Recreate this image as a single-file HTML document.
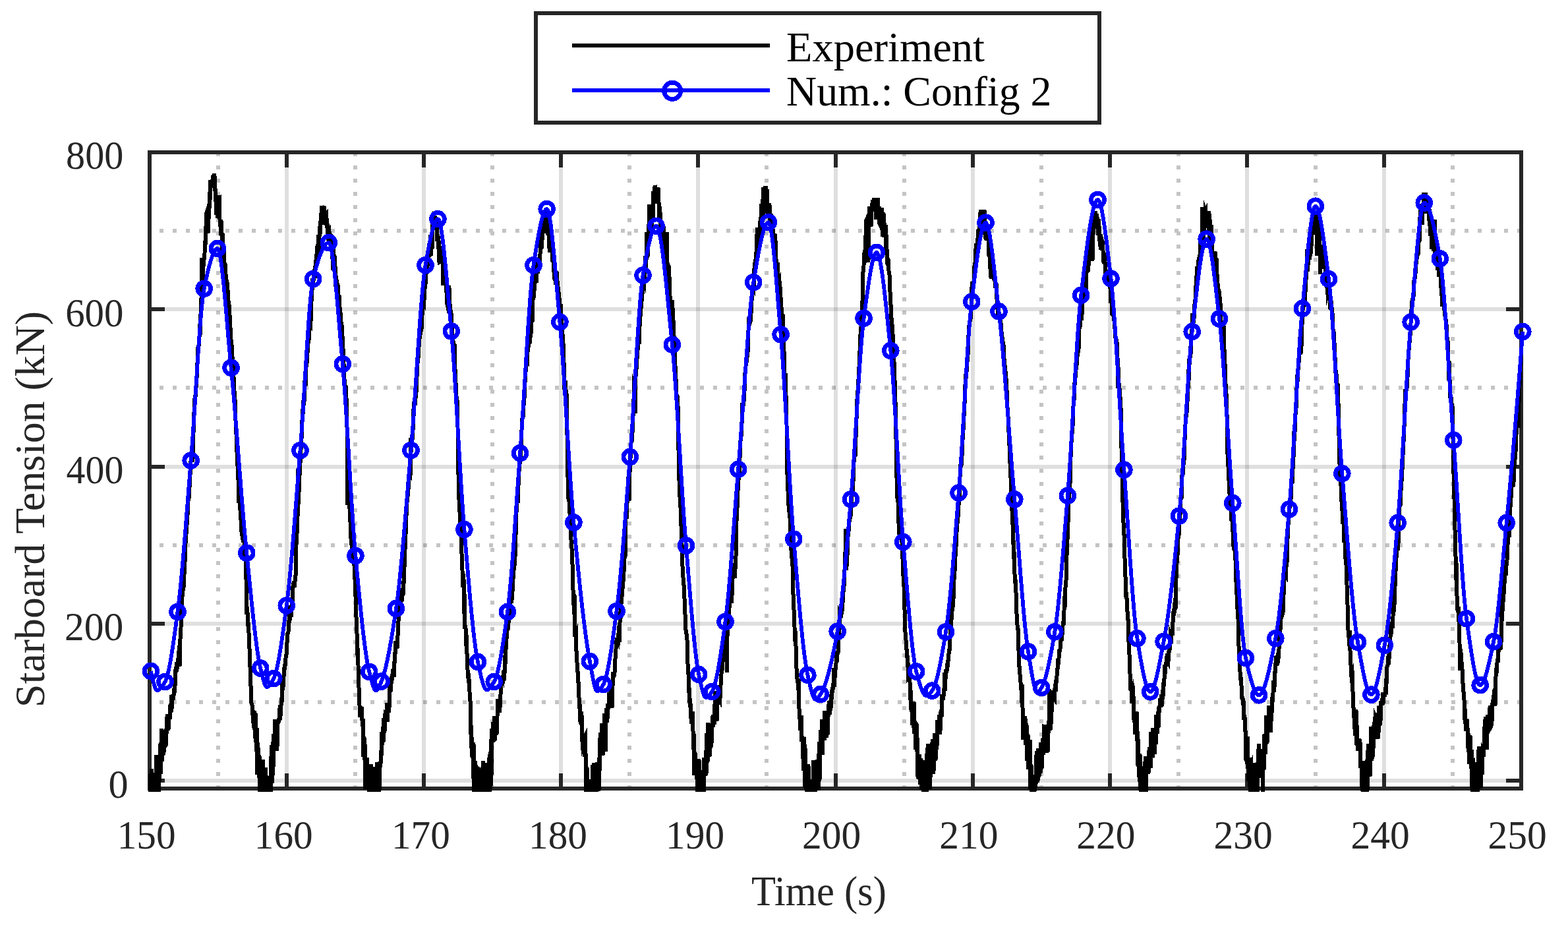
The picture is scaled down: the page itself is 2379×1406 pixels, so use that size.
<!DOCTYPE html><html><head><meta charset="utf-8"><title>Starboard Tension</title>
<style>html,body{margin:0;padding:0;background:#fff;}svg{display:block;}text{font-family:"Liberation Serif",serif;}</style></head><body>
<svg width="2379" height="1406" viewBox="0 0 2379 1406" shape-rendering="crispEdges">
<rect width="2379" height="1406" fill="#fff"/>
<defs><clipPath id="ax"><rect x="224" y="228" width="2087" height="973"/></clipPath></defs>
<path d="M331 1197 V231 M539 1197 V231 M747 1197 V231 M955 1197 V231 M1163 1197 V231 M1372 1197 V231 M1580 1197 V231 M1788 1197 V231 M1996 1197 V231 M2204 1197 V231" stroke="#c4c4c4" stroke-width="6" stroke-dasharray="6 14" fill="none"/>
<path d="M2308 1065 H227 M2308 827 H227 M2308 588 H227 M2308 350 H227" stroke="#c4c4c4" stroke-width="6" stroke-dasharray="6 14" fill="none"/>
<g stroke="#262626" stroke-opacity="0.15" stroke-width="6" fill="none">
<path d="M435 1196 V231"/>
<path d="M643 1196 V231"/>
<path d="M851 1196 V231"/>
<path d="M1059 1196 V231"/>
<path d="M1268 1196 V231"/>
<path d="M1476 1196 V231"/>
<path d="M1684 1196 V231"/>
<path d="M1892 1196 V231"/>
<path d="M2100 1196 V231"/>
<path d="M227 1184 H2308"/>
<path d="M227 946 H2308"/>
<path d="M227 708 H2308"/>
<path d="M227 469 H2308"/>
</g>
<path d="M227 1196 v-23 M227 231 v23 M435 1196 v-23 M435 231 v23 M643 1196 v-23 M643 231 v23 M851 1196 v-23 M851 231 v23 M1059 1196 v-23 M1059 231 v23 M1268 1196 v-23 M1268 231 v23 M1476 1196 v-23 M1476 231 v23 M1684 1196 v-23 M1684 231 v23 M1892 1196 v-23 M1892 231 v23 M2100 1196 v-23 M2100 231 v23 M2308 1196 v-23 M2308 231 v23 M227 1184 h23 M2308 1184 h-23 M227 946 h23 M2308 946 h-23 M227 708 h23 M2308 708 h-23 M227 469 h23 M2308 469 h-23 M227 231 h23 M2308 231 h-23" stroke="#262626" stroke-width="6" fill="none"/>
<rect x="227" y="231" width="2081" height="965" fill="none" stroke="#262626" stroke-width="6"/>
<g clip-path="url(#ax)">
<path d="M227 1200.8 227.5 1204 228 1204 228.5 1173 229 1180.8 229.5 1204 230 1166.1 230.5 1204 231 1204 231.5 1197.8 232 1181.7 232.5 1175.8 233 1171.8 233.5 1185.8 234 1192.6 234.5 1199.8 235 1204 235.5 1204 236 1204 236.5 1204 237 1166.8 237.5 1145 238 1189.4 238.5 1150.1 239 1153.6 239.5 1192.9 240 1192.6 240.5 1204 241 1201.5 241.5 1177.4 242 1177.9 242.5 1151.9 243 1127.7 243.5 1134.8 244 1173.7 244.5 1126.4 245 1134.4 245.5 1105.3 246 1155.2 246.5 1120.8 247 1111.2 247.5 1146.1 248 1122.8 248.5 1141.7 249 1129.7 249.5 1134.6 250 1114 250.5 1120.7 251 1116.7 251.5 1132.5 252 1105.1 252.5 1114.5 253 1087.1 253.5 1099.9 254 1094.1 254.5 1083.1 255 1107.6 255.5 1085.6 256 1106.4 256.5 1088.7 257 1087.7 257.5 1087.7 258 1087.8 258.5 1068.9 259 1076.2 259.5 1067.3 260 1068.6 260.5 1056.9 261 1075.4 261.5 1054.5 262 1062.2 262.5 1053.1 263 1061.5 263.5 1055.7 264 1044.1 264.5 1051.2 265 1047.2 265.5 1040.1 266 1028 266.5 1015.1 267 1011 267.5 1019.5 268 1011.6 268.5 1004.7 269 1015 269.5 1009.5 270 1005.7 270.5 998.8 271 994.8 271.5 987.2 272 979.1 272.5 1011.3 273 975.6 273.5 969.6 274 956.7 274.5 952.3 275 928.2 275.5 921.3 276 904.9 276.5 897.7 277 905.1 277.5 896.3 278 889.7 278.5 887.8 279 887.8 279.5 871 280 864 280.5 852.7 281 834.1 281.5 824.2 282 817.4 282.5 810.8 283 791.2 283.5 797.1 284 775.8 284.5 781.3 285 775.7 285.5 758.4 286 756.7 286.5 756.7 287 737.2 287.5 739.4 288 733.4 288.5 719.6 289 714.1 289.5 698.8 290 693.8 290.5 694.5 291 691.5 291.5 693.8 292 700.8 292.5 688 293 672.7 293.5 656.1 294 649.7 294.5 625.1 295 620.4 295.5 604.2 296 599.1 296.5 602 297 596.2 297.5 588.1 298 577.3 298.5 573.5 299 554 299.5 550.8 300 527.8 300.5 526.8 301 523.4 301.5 526.1 302 509.8 302.5 511.7 303 500.8 303.5 491.5 304 508 304.5 476.3 305 458.1 305.5 452.2 306 442 306.5 390.8 307 426.8 307.5 432.9 308 423.3 308.5 399.1 309 403.6 309.5 394.1 310 390.2 310.5 384 311 364.6 311.5 372.1 312 347.2 312.5 343.1 313 338.1 313.5 322.8 314 321.2 314.5 336.6 315 351.6 315.5 353.5 316 346.1 316.5 315.3 317 331.9 317.5 316 318 309.1 318.5 290.6 319 303.2 319.5 273.4 320 275.5 320.5 276.9 321 284.5 321.5 280.6 322 272.4 322.5 279 323 266 323.5 268.9 324 266 324.5 270.7 325 266 325.5 266 326 290.2 326.5 285.7 327 303.1 327.5 305.2 328 296.4 328.5 326 329 318.7 329.5 300.7 330 327.1 330.5 330.6 331 324.7 331.5 295.9 332 307.7 332.5 311.1 333 309.8 333.5 333.1 334 344.2 334.5 332.8 335 353.1 335.5 353 336 334.9 336.5 357.8 337 384.2 337.5 353.4 338 372.1 338.5 381.7 339 385.6 339.5 378.8 340 400.2 340.5 398.2 341 404.9 341.5 407.1 342 400.4 342.5 415.4 343 425.5 343.5 433.1 344 424.8 344.5 428 345 444.5 345.5 440.1 346 449.9 346.5 460.4 347 456.8 347.5 461.9 348 473.3 348.5 485.2 349 484.7 349.5 497 350 500 350.5 514.8 351 523.7 351.5 523 352 530.1 352.5 540.7 353 543.8 353.5 552.6 354 562.1 354.5 572.1 355 574.1 355.5 593.3 356 600.1 356.5 606.2 357 614.1 357.5 637.9 358 643.2 358.5 659.2 359 674 359.5 685.4 360 707.2 360.5 703.9 361 711.7 361.5 728.1 362 763.1 362.5 735.3 363 747.8 363.5 755.4 364 761.7 364.5 774 365 771.3 365.5 789.1 366 798 366.5 806.9 367 811.7 367.5 812.2 368 810.5 368.5 819.1 369 823.1 369.5 814.6 370 817.9 370.5 820 371 836.5 371.5 846.7 372 842.1 372.5 849.9 373 869.3 373.5 879.1 374 893.6 374.5 932.2 375 920.2 375.5 928.6 376 950 376.5 943.7 377 958.2 377.5 959.9 378 976.8 378.5 984.1 379 993.7 379.5 1011.7 380 1029.8 380.5 1040.7 381 1044.2 381.5 1066.7 382 1067.9 382.5 1069.1 383 1076.8 383.5 1085.1 384 1077.2 384.5 1096.4 385 1103.9 385.5 1086.1 386 1077.6 386.5 1107 387 1120.2 387.5 1081.4 388 1113.3 388.5 1125.6 389 1139.7 389.5 1104.3 390 1111.5 390.5 1175.4 391 1126.2 391.5 1133.2 392 1163.2 392.5 1155.7 393 1180.4 393.5 1145.3 394 1204 394.5 1163.9 395 1204 395.5 1168.3 396 1199.7 396.5 1166.3 397 1182.4 397.5 1177.1 398 1202.1 398.5 1180.7 399 1152.2 399.5 1204 400 1204 400.5 1204 401 1176.6 401.5 1188.2 402 1176.4 402.5 1169.5 403 1164.1 403.5 1200.2 404 1175.9 404.5 1182.8 405 1204 405.5 1204 406 1184.6 406.5 1204 407 1184.1 407.5 1199.2 408 1178.4 408.5 1192.6 409 1198.4 409.5 1189.7 410 1177.4 410.5 1202.4 411 1203 411.5 1147 412 1137.9 412.5 1130.6 413 1187.7 413.5 1178.5 414 1124.8 414.5 1165.9 415 1113.3 415.5 1125.2 416 1119.4 416.5 1139.1 417 1091.1 417.5 1107.5 418 1124.7 418.5 1100 419 1108.5 419.5 1116.3 420 1138.4 420.5 1133 421 1109.3 421.5 1098.7 422 1091.6 422.5 1095.5 423 1089.3 423.5 1093.1 424 1078.6 424.5 1074.4 425 1092.3 425.5 1069.5 426 1085.8 426.5 1070.4 427 1058.2 427.5 1065.3 428 1046.1 428.5 1047 429 1034.7 429.5 1042.4 430 1029.6 430.5 1026.8 431 1012.6 431.5 1016.1 432 1010.9 432.5 1007.2 433 1009.5 433.5 998 434 993.5 434.5 992.6 435 988.8 435.5 974.4 436 973.6 436.5 960.3 437 960.2 437.5 958.2 438 941.3 438.5 946.3 439 917.9 439.5 941 440 931 440.5 929.5 441 935.2 441.5 932.7 442 935.5 442.5 922.2 443 924.1 443.5 915.8 444 912.5 444.5 889.6 445 890 445.5 889.7 446 888.2 446.5 881.7 447 890.4 447.5 881.9 448 874.8 448.5 874.7 449 849.5 449.5 816.5 450 826 450.5 809.3 451 793.6 451.5 786.6 452 711.2 452.5 765.2 453 759.1 453.5 746.9 454 735.9 454.5 721.7 455 714.3 455.5 702.4 456 698.3 456.5 682.2 457 672.5 457.5 665.5 458 650 458.5 636.7 459 635.3 459.5 620.6 460 621.9 460.5 615.2 461 603.5 461.5 610.3 462 580.7 462.5 576.9 463 575.5 463.5 586.4 464 557.8 464.5 556.2 465 554.4 465.5 550.7 466 544.6 466.5 535.3 467 529.5 467.5 521 468 514.9 468.5 517.2 469 502.1 469.5 500.4 470 496.7 470.5 496.7 471 497 471.5 488 472 469.4 472.5 456.2 473 455.3 473.5 439.9 474 436.9 474.5 422.1 475 435.2 475.5 423.4 476 425.4 476.5 416.5 477 417.3 477.5 421.6 478 416.7 478.5 403.6 479 406.3 479.5 394.5 480 388.2 480.5 388.3 481 374.6 481.5 373.1 482 379.8 482.5 378.5 483 355.9 483.5 373.6 484 374.1 484.5 359.9 485 343.5 485.5 356 486 334.6 486.5 341.4 487 323.4 487.5 326.8 488 311.7 488.5 318.7 489 321.5 489.5 327 490 313.7 490.5 340.6 491 317.1 491.5 312.9 492 315.8 492.5 336 493 324.6 493.5 339 494 339.4 494.5 324.1 495 323.6 495.5 330.2 496 345.8 496.5 338.5 497 355.1 497.5 351 498 354.9 498.5 364.2 499 367.4 499.5 357.7 500 355.8 500.5 360.7 501 362.3 501.5 354.3 502 366.7 502.5 378.4 503 372.4 503.5 380 504 386.7 504.5 392.7 505 410.3 505.5 385.3 506 387.3 506.5 386 507 394.7 507.5 387.6 508 403.4 508.5 403 509 434.6 509.5 427.5 510 417.7 510.5 429 511 426.6 511.5 429.2 512 440.1 512.5 431.4 513 449.8 513.5 453.3 514 453.3 514.5 447.2 515 461.8 515.5 466.2 516 475.3 516.5 473.2 517 491.7 517.5 496.4 518 488.3 518.5 494.7 519 493.1 519.5 510.1 520 518.2 520.5 529.5 521 536.4 521.5 551.7 522 565.7 522.5 575.1 523 588.7 523.5 586.9 524 584.2 524.5 588.6 525 584.7 525.5 603.7 526 617.1 526.5 647.6 527 693.3 527.5 766.1 528 725 528.5 733 529 742.7 529.5 750.8 530 760.3 530.5 771.7 531 790.1 531.5 790.9 532 811.4 532.5 816.9 533 826.6 533.5 824.4 534 821.8 534.5 837.5 535 832.1 535.5 834.1 536 848.8 536.5 851.9 537 850 537.5 857.7 538 877.2 538.5 877.6 539 898.1 539.5 904.4 540 931.3 540.5 935.6 541 956.4 541.5 961 542 979.1 542.5 993.5 543 992.7 543.5 1009 544 1031.1 544.5 1043.3 545 1053 545.5 1070.3 546 1075.1 546.5 1088.3 547 1072.9 547.5 1083.9 548 1078.2 548.5 1082.3 549 1071.6 549.5 1093.1 550 1102 550.5 1098.2 551 1089.8 551.5 1147.7 552 1141.6 552.5 1117 553 1152.9 553.5 1128.1 554 1145.6 554.5 1196.7 555 1156.1 555.5 1151.2 556 1159 556.5 1148.9 557 1165 557.5 1173.8 558 1170.5 558.5 1165.3 559 1196.3 559.5 1178.9 560 1204 560.5 1204 561 1177.7 561.5 1204 562 1190.6 562.5 1159.5 563 1164.4 563.5 1204 564 1204 564.5 1204 565 1168.3 565.5 1204 566 1204 566.5 1204 567 1163.3 567.5 1201.1 568 1191.3 568.5 1204 569 1171.5 569.5 1184.6 570 1204 570.5 1194.1 571 1189.5 571.5 1204 572 1175.8 572.5 1156.3 573 1183.6 573.5 1169.4 574 1166.9 574.5 1203.3 575 1204 575.5 1198.2 576 1192.3 576.5 1155.1 577 1158.5 577.5 1158.9 578 1138.2 578.5 1147.2 579 1130.8 579.5 1110 580 1130.3 580.5 1122.7 581 1102.1 581.5 1120.6 582 1125.4 582.5 1088.8 583 1111.2 583.5 1109.2 584 1091.3 584.5 1082.2 585 1082.7 585.5 1085.7 586 1088.2 586.5 1081.7 587 1065.9 587.5 1091.1 588 1095.2 588.5 1070.5 589 1074 589.5 1068.9 590 1080.3 590.5 1074.4 591 1049.2 591.5 1049.7 592 1043.2 592.5 1044.5 593 1048.6 593.5 1031.5 594 1029 594.5 1029.6 595 1026 595.5 1026.4 596 1019.9 596.5 1014.8 597 1018.1 597.5 1026.9 598 1019.7 598.5 1003.2 599 1006 599.5 989.1 600 989.1 600.5 972 601 984.3 601.5 974 602 980.3 602.5 983.4 603 977.2 603.5 964 604 952.7 604.5 942.7 605 927.7 605.5 921.7 606 915.2 606.5 918.4 607 918.5 607.5 920 608 914.2 608.5 907.9 609 909.4 609.5 912.6 610 901.2 610.5 900.5 611 902.8 611.5 892.6 612 893.7 612.5 885.4 613 865.1 613.5 861 614 843.2 614.5 832.8 615 824.2 615.5 809.8 616 799.1 616.5 776 617 776.4 617.5 763 618 748.1 618.5 753.5 619 743.5 619.5 731.3 620 742.1 620.5 727.6 621 724 621.5 721.6 622 722.3 622.5 722.8 623 664.4 623.5 686.9 624 671.6 624.5 675.2 625 669.7 625.5 666.7 626 662.5 626.5 652 627 645.8 627.5 620.9 628 621.7 628.5 608.7 629 610.9 629.5 610.7 630 610.9 630.5 596.7 631 594.9 631.5 595.6 632 586.8 632.5 568.1 633 568 633.5 551.4 634 543.9 634.5 543.6 635 532.9 635.5 526.3 636 519.1 636.5 514.1 637 504.6 637.5 499.8 638 508.2 638.5 502.8 639 501.6 639.5 499.5 640 484.9 640.5 478.4 641 472.4 641.5 466.6 642 468.8 642.5 458.5 643 454 643.5 455.5 644 442.4 644.5 434.3 645 437.9 645.5 431.3 646 415 646.5 416.6 647 400.2 647.5 400.9 648 409.5 648.5 401.1 649 401.3 649.5 404 650 398.6 650.5 381.7 651 390 651.5 368.8 652 389.1 652.5 366.8 653 367.8 653.5 366.3 654 388.3 654.5 366.3 655 371.8 655.5 377.7 656 369.8 656.5 335 657 343.2 657.5 340.9 658 341.6 658.5 330 659 330.9 659.5 330 660 330 660.5 344.5 661 330.3 661.5 334.7 662 339.1 662.5 332.4 663 334.3 663.5 365.7 664 357.1 664.5 357.3 665 378.3 665.5 364.3 666 375.3 666.5 397.9 667 397.7 667.5 391.2 668 376.7 668.5 381.9 669 373.5 669.5 377.7 670 373.1 670.5 377.4 671 393.3 671.5 385.8 672 393.6 672.5 432.8 673 408.4 673.5 410.4 674 404.3 674.5 417.9 675 413.2 675.5 410.6 676 415.8 676.5 412.6 677 426.3 677.5 443.7 678 459.7 678.5 461.8 679 458.6 679.5 434 680 438.3 680.5 449.2 681 433.2 681.5 436.5 682 451.2 682.5 460.8 683 468.5 683.5 470.5 684 472 684.5 474.7 685 492.6 685.5 500.3 686 495.2 686.5 510.8 687 512.5 687.5 517.3 688 525.6 688.5 522.1 689 533.8 689.5 520.9 690 552.8 690.5 559.9 691 577 691.5 588.1 692 587.6 692.5 604.2 693 609.1 693.5 607.4 694 610.3 694.5 648.1 695 702.9 695.5 720.1 696 733.1 696.5 757.6 697 769.6 697.5 776.3 698 789.7 698.5 794.9 699 789.2 699.5 800.5 700 818.4 700.5 840.3 701 851.2 701.5 864.8 702 891.1 702.5 870.1 703 884.2 703.5 877 704 930.5 704.5 900.2 705 918.7 705.5 953.7 706 948.3 706.5 952.3 707 967.9 707.5 980.1 708 963 708.5 991.4 709 997.7 709.5 1015.7 710 1021.2 710.5 1028.4 711 1027.9 711.5 1035.4 712 1030.2 712.5 1049.4 713 1061.4 713.5 1063.4 714 1077.6 714.5 1113.7 715 1100.2 715.5 1135.3 716 1118 716.5 1147.9 717 1128.1 717.5 1150.3 718 1180.7 718.5 1126.1 719 1202.3 719.5 1176.9 720 1170.7 720.5 1172.2 721 1154.1 721.5 1169.1 722 1196.5 722.5 1160 723 1203.1 723.5 1204 724 1204 724.5 1204 725 1204 725.5 1162.7 726 1204 726.5 1166.9 727 1204 727.5 1204 728 1204 728.5 1204 729 1194.5 729.5 1204 730 1196 730.5 1204 731 1172.2 731.5 1204 732 1204 732.5 1162.9 733 1153.7 733.5 1172.9 734 1165.2 734.5 1170.8 735 1200.5 735.5 1189.6 736 1190.2 736.5 1173.5 737 1156.9 737.5 1177.1 738 1183.9 738.5 1188 739 1204 739.5 1174.1 740 1204 740.5 1182 741 1204 741.5 1186.4 742 1149.5 742.5 1204 743 1191.9 743.5 1143.9 744 1140.8 744.5 1196.3 745 1121.3 745.5 1135.2 746 1175.2 746.5 1105.1 747 1109.5 747.5 1107.7 748 1095.4 748.5 1113.8 749 1116.7 749.5 1098.8 750 1086.4 750.5 1121.7 751 1121.3 751.5 1110.9 752 1093.3 752.5 1112 753 1114.5 753.5 1102.6 754 1112.5 754.5 1086.2 755 1081.1 755.5 1060.2 756 1069 756.5 1072.6 757 1072.2 757.5 1062.3 758 1081.3 758.5 1073.3 759 1062 759.5 1053.3 760 1048.9 760.5 1029.1 761 1029 761.5 1026.5 762 1034.1 762.5 1031.4 763 1028 763.5 1029.6 764 1025.9 764.5 1032.6 765 1017.6 765.5 1017.3 766 1006 766.5 1007.6 767 1000.7 767.5 978.1 768 985 768.5 970.1 769 953.7 769.5 954.5 770 943.8 770.5 950.4 771 944 771.5 945.4 772 940.4 772.5 938 773 931.9 773.5 923.6 774 905.7 774.5 904.9 775 895.2 775.5 903.1 776 914.8 776.5 901.5 777 909.7 777.5 898.2 778 881.7 778.5 878.4 779 861.7 779.5 866 780 850.7 780.5 850.5 781 858.3 781.5 844.9 782 825.2 782.5 812.1 783 789.2 783.5 777.3 784 769.4 784.5 763.8 785 746.2 785.5 750.7 786 751.7 786.5 736.1 787 732 787.5 711.4 788 714.9 788.5 703.1 789 702.6 789.5 696.3 790 692 790.5 671.3 791 671.9 791.5 652.3 792 642.4 792.5 634.4 793 632.7 793.5 630.2 794 633.2 794.5 615.2 795 611.5 795.5 604 796 598.4 796.5 580.8 797 568.6 797.5 564.4 798 558.1 798.5 550.1 799 545.1 799.5 547.6 800 548.2 800.5 535.1 801 517.2 801.5 527.5 802 509.7 802.5 511.7 803 513.4 803.5 521.6 804 512.9 804.5 512.1 805 509.9 805.5 506 806 493.6 806.5 480.8 807 478.8 807.5 488.6 808 470.6 808.5 455 809 447 809.5 452.7 810 437 810.5 441.1 811 432.2 811.5 427.3 812 417 812.5 429.6 813 412.8 813.5 429 814 423.7 814.5 407.2 815 399.8 815.5 415.2 816 404.6 816.5 395.4 817 403.3 817.5 394.4 818 394 818.5 403.6 819 395 819.5 385.9 820 363.5 820.5 368.6 821 366.4 821.5 378.2 822 349.1 822.5 357.1 823 363.7 823.5 342.3 824 332.7 824.5 337.7 825 328 825.5 347.1 826 322 826.5 326.6 827 324.3 827.5 346.4 828 333.4 828.5 353.7 829 339 829.5 353.9 830 331.2 830.5 323 831 336.5 831.5 357.2 832 355.1 832.5 339.3 833 365.1 833.5 377 834 382.3 834.5 376.6 835 380 835.5 377.2 836 361.6 836.5 353.8 837 372.3 837.5 361 838 373.9 838.5 397 839 392.9 839.5 398.1 840 413.3 840.5 401.1 841 421.6 841.5 423 842 413.9 842.5 416.3 843 414.1 843.5 432 844 415.9 844.5 411.6 845 429.8 845.5 426 846 432.1 846.5 448.6 847 434.9 847.5 443.1 848 455.6 848.5 451.5 849 461 849.5 466.8 850 469.1 850.5 474.2 851 472.9 851.5 484.7 852 503.6 852.5 498 853 509.6 853.5 506.2 854 525.5 854.5 520.3 855 534 855.5 548.1 856 591.3 856.5 577.2 857 581.4 857.5 579.5 858 577.5 858.5 590.6 859 600.9 859.5 596.4 860 627.9 860.5 659.5 861 700.9 861.5 723.7 862 742 862.5 757 863 759.1 863.5 760.4 864 773 864.5 778.7 865 789.4 865.5 800.6 866 813.6 866.5 819.2 867 826.1 867.5 832.1 868 846.1 868.5 855.8 869 878.9 869.5 894.7 870 901.6 870.5 918.3 871 931.6 871.5 901.3 872 935.8 872.5 965.9 873 949 873.5 963.6 874 962.2 874.5 987.5 875 993.8 875.5 1005 876 1009.5 876.5 1019.5 877 1017.9 877.5 1033.9 878 1039.7 878.5 1057.9 879 1074.8 879.5 1072.9 880 1072.7 880.5 1095 881 1095 881.5 1089.7 882 1078.8 882.5 1100.1 883 1084.9 883.5 1124.5 884 1131.3 884.5 1129.6 885 1133.2 885.5 1117.8 886 1128.6 886.5 1126.4 887 1147.6 887.5 1116.7 888 1115.7 888.5 1140.6 889 1177 889.5 1204 890 1204 890.5 1163.1 891 1204 891.5 1187.3 892 1204 892.5 1199.8 893 1194 893.5 1201.7 894 1198.9 894.5 1204 895 1197.4 895.5 1200.2 896 1182.3 896.5 1204 897 1190.6 897.5 1204 898 1201.9 898.5 1204 899 1160.3 899.5 1188.9 900 1165 900.5 1176.5 901 1157.1 901.5 1204 902 1204 902.5 1192.5 903 1175.9 903.5 1204 904 1172.7 904.5 1204 905 1164.6 905.5 1178.9 906 1185.6 906.5 1155.7 907 1166.9 907.5 1159.7 908 1186.2 908.5 1200 909 1148.6 909.5 1172.3 910 1119.3 910.5 1141.9 911 1125.5 911.5 1111.2 912 1139.2 912.5 1132 913 1096.8 913.5 1107 914 1136.9 914.5 1146.2 915 1125.3 915.5 1134.5 916 1134 916.5 1115.8 917 1105.3 917.5 1082.2 918 1086.6 918.5 1097 919 1139.7 919.5 1085.8 920 1089.5 920.5 1074.6 921 1095.8 921.5 1083.1 922 1089.8 922.5 1067.3 923 1075.2 923.5 1070.6 924 1060.4 924.5 1050 925 1053.1 925.5 1060 926 1049.3 926.5 1049.7 927 1058.3 927.5 1054.5 928 1060.7 928.5 1074.2 929 1049.8 929.5 1040.2 930 1030.4 930.5 1018.9 931 1027.2 931.5 1025 932 1024.1 932.5 1020.1 933 1016.1 933.5 998.9 934 995.3 934.5 983.9 935 974.7 935.5 971.2 936 967.7 936.5 973.1 937 970.2 937.5 968 938 969.7 938.5 960.6 939 954.7 939.5 955.3 940 974 940.5 944.1 941 935.6 941.5 936.3 942 938.1 942.5 914.4 943 914.1 943.5 905.8 944 892.7 944.5 893.1 945 885.2 945.5 881.8 946 880 946.5 867.2 947 857.5 947.5 843.3 948 838.2 948.5 847.2 949 798.3 949.5 780.3 950 780.2 950.5 786.9 951 776.9 951.5 763.4 952 749 952.5 747.3 953 727.3 953.5 723.5 954 725.8 954.5 760.1 955 729.5 955.5 715.9 956 712.3 956.5 695.5 957 674.5 957.5 672.2 958 660.9 958.5 657 959 670 959.5 656.4 960 645.8 960.5 631.6 961 624.7 961.5 605.3 962 584 962.5 585.5 963 573 963.5 579.4 964 626.7 964.5 571.4 965 564.6 965.5 560.1 966 556.3 966.5 545.3 967 527.8 967.5 531.1 968 524.3 968.5 518.9 969 514.8 969.5 507.5 970 508.9 970.5 495.3 971 488.4 971.5 479.8 972 469.8 972.5 468 973 465 973.5 456.6 974 450.3 974.5 446.9 975 425.4 975.5 422.7 976 423.6 976.5 427.6 977 428 977.5 429.4 978 412 978.5 406.2 979 399.3 979.5 388.2 980 391.7 980.5 393.1 981 352.2 981.5 367.6 982 375.5 982.5 388.2 983 386.9 983.5 369 984 351 984.5 340.5 985 340.4 985.5 310.3 986 323.7 986.5 319.2 987 314.5 987.5 320.3 988 344.9 988.5 337.1 989 348.4 989.5 314 990 320.5 990.5 330.7 991 319.3 991.5 290.3 992 294.5 992.5 296.3 993 305.2 993.5 284.1 994 284 994.5 308.8 995 295.8 995.5 308.9 996 304.5 996.5 288.2 997 292.6 997.5 285.1 998 289.7 998.5 284 999 304.2 999.5 306.6 1000 314.3 1000.5 335.8 1001 313.6 1001.5 320.6 1002 356.9 1002.5 341.7 1003 341.7 1003.5 339.1 1004 350.1 1004.5 341.8 1005 362.5 1005.5 362.4 1006 348.6 1006.5 341.9 1007 369.8 1007.5 355.8 1008 369.1 1008.5 377.4 1009 360.8 1009.5 382.9 1010 377 1010.5 391.8 1011 388.8 1011.5 391.4 1012 352.2 1012.5 404.9 1013 417.4 1013.5 418.8 1014 402.4 1014.5 403.5 1015 411.4 1015.5 419.7 1016 439 1016.5 449.3 1017 459.4 1017.5 462.1 1018 464.9 1018.5 459 1019 460.4 1019.5 454.8 1020 470.8 1020.5 467.4 1021 472.3 1021.5 485.5 1022 495.3 1022.5 511.1 1023 508.7 1023.5 522 1024 543.5 1024.5 555.1 1025 564.5 1025.5 575.6 1026 580.5 1026.5 598.4 1027 601.8 1027.5 602.3 1028 602.5 1028.5 614.5 1029 647.2 1029.5 682.5 1030 703.7 1030.5 729.2 1031 745.2 1031.5 753.4 1032 762.9 1032.5 769.8 1033 780.4 1033.5 797.7 1034 812.2 1034.5 825.1 1035 850.9 1035.5 859.1 1036 866.7 1036.5 875.6 1037 880.1 1037.5 887.4 1038 896.4 1038.5 907.8 1039 924.8 1039.5 931.8 1040 953.5 1040.5 955.2 1041 960.2 1041.5 961.1 1042 969.4 1042.5 970.4 1043 991.5 1043.5 1006.5 1044 1021 1044.5 1022.9 1045 1043.9 1045.5 1050.5 1046 1043.4 1046.5 1066.2 1047 1059.3 1047.5 1072.5 1048 1072.2 1048.5 1090.2 1049 1086.5 1049.5 1098.2 1050 1091.4 1050.5 1097.3 1051 1079.1 1051.5 1108.8 1052 1122.7 1052.5 1136.8 1053 1112.7 1053.5 1175.7 1054 1158.9 1054.5 1140.4 1055 1174.5 1055.5 1160.1 1056 1164.8 1056.5 1153.6 1057 1165 1057.5 1181.7 1058 1204 1058.5 1194.2 1059 1163.4 1059.5 1188.8 1060 1166.5 1060.5 1150.6 1061 1204 1061.5 1175 1062 1201.9 1062.5 1188.1 1063 1168.2 1063.5 1204 1064 1204 1064.5 1175 1065 1191.7 1065.5 1190.3 1066 1178 1066.5 1204 1067 1204 1067.5 1204 1068 1204 1068.5 1149.5 1069 1155.9 1069.5 1169 1070 1177.2 1070.5 1150.8 1071 1152 1071.5 1176 1072 1111.8 1072.5 1122.8 1073 1117.8 1073.5 1157.4 1074 1106.6 1074.5 1096.3 1075 1120.8 1075.5 1136.8 1076 1110.3 1076.5 1147.9 1077 1110.5 1077.5 1133.8 1078 1101.6 1078.5 1135.1 1079 1099 1079.5 1123.6 1080 1127 1080.5 1096.9 1081 1085.8 1081.5 1103.3 1082 1094.1 1082.5 1083.9 1083 1098.5 1083.5 1083.9 1084 1085.4 1084.5 1071 1085 1047.7 1085.5 1082.6 1086 1063.2 1086.5 1075.7 1087 1072.7 1087.5 1093.6 1088 1084.2 1088.5 1062.7 1089 1063.1 1089.5 1068.5 1090 1060.6 1090.5 1056.6 1091 1057.2 1091.5 1057.7 1092 1058.2 1092.5 1059.7 1093 1052.9 1093.5 1039.3 1094 1031.5 1094.5 1022.4 1095 1011.9 1095.5 1017.3 1096 999 1096.5 998.5 1097 1003.5 1097.5 999.2 1098 989.4 1098.5 993.7 1099 978.5 1099.5 991.3 1100 964 1100.5 975.5 1101 963.4 1101.5 969.1 1102 977.2 1102.5 976.5 1103 1019.5 1103.5 965.3 1104 949.7 1104.5 940.7 1105 942.5 1105.5 931.8 1106 941.7 1106.5 921.4 1107 920.7 1107.5 912.7 1108 904.7 1108.5 909.3 1109 901.3 1109.5 914.5 1110 910.7 1110.5 902.9 1111 901.5 1111.5 854.3 1112 876.4 1112.5 875.1 1113 870.2 1113.5 863.5 1114 861.4 1114.5 873.9 1115 876.4 1115.5 863.3 1116 848.3 1116.5 843.4 1117 818.8 1117.5 790.3 1118 777.1 1118.5 759.1 1119 759.9 1119.5 744.6 1120 736.8 1120.5 727.6 1121 723.3 1121.5 722.9 1122 699.6 1122.5 693.2 1123 692.3 1123.5 668.5 1124 664.5 1124.5 663.2 1125 640.4 1125.5 642 1126 629.9 1126.5 611.2 1127 614.6 1127.5 613.4 1128 616.1 1128.5 608.8 1129 605.2 1129.5 593.3 1130 580.9 1130.5 564.7 1131 564.1 1131.5 555.9 1132 544.3 1132.5 549.9 1133 547.2 1133.5 541.8 1134 536.1 1134.5 534.6 1135 510.7 1135.5 501 1136 496.8 1136.5 481.3 1137 488.8 1137.5 479 1138 489.6 1138.5 488.3 1139 482.4 1139.5 475.2 1140 460.8 1140.5 456.8 1141 439.4 1141.5 441.4 1142 435.4 1142.5 432.3 1143 437.1 1143.5 438.1 1144 432.5 1144.5 407.5 1145 420.8 1145.5 397.9 1146 392.9 1146.5 400.2 1147 394.6 1147.5 381.7 1148 361.1 1148.5 355.4 1149 359.6 1149.5 344.6 1150 360.4 1150.5 365.8 1151 362.9 1151.5 379.7 1152 363.2 1152.5 368.8 1153 355.8 1153.5 335.1 1154 332.4 1154.5 328.9 1155 324.1 1155.5 309.5 1156 340.3 1156.5 338.4 1157 301.7 1157.5 328 1158 305.9 1158.5 284.4 1159 323.6 1159.5 286.9 1160 295.3 1160.5 298.6 1161 287.5 1161.5 282 1162 296.8 1162.5 293.3 1163 304.3 1163.5 286.7 1164 312.5 1164.5 323.4 1165 311.7 1165.5 318.6 1166 318.5 1166.5 307.7 1167 315.5 1167.5 318.7 1168 311.4 1168.5 334.6 1169 324.8 1169.5 331.3 1170 323.9 1170.5 328.4 1171 343.5 1171.5 338.2 1172 346.8 1172.5 346.8 1173 356.2 1173.5 370.7 1174 355.1 1174.5 364.1 1175 369.9 1175.5 354.4 1176 381.4 1176.5 373.2 1177 372.6 1177.5 393.2 1178 401.4 1178.5 402.7 1179 414.4 1179.5 398.1 1180 411.8 1180.5 419.8 1181 426.9 1181.5 448.5 1182 426.7 1182.5 425.5 1183 432.2 1183.5 435.3 1184 446.2 1184.5 450.9 1185 457.5 1185.5 470 1186 466.2 1186.5 486.9 1187 490.4 1187.5 476.5 1188 503.3 1188.5 515.1 1189 531.9 1189.5 532.4 1190 550.8 1190.5 567.8 1191 585.7 1191.5 586 1192 566 1192.5 600.3 1193 609.9 1193.5 644.1 1194 692.8 1194.5 720.1 1195 739.8 1195.5 744.9 1196 763.1 1196.5 767.1 1197 766.5 1197.5 776.7 1198 784.4 1198.5 785.8 1199 803.3 1199.5 802.6 1200 814.9 1200.5 834.6 1201 835.4 1201.5 846.9 1202 857.2 1202.5 858.7 1203 883.8 1203.5 901.4 1204 909.2 1204.5 925 1205 942.9 1205.5 951 1206 972.6 1206.5 956.8 1207 964.8 1207.5 980 1208 992.3 1208.5 1013.7 1209 1022.6 1209.5 1029.4 1210 1035.7 1210.5 1030.9 1211 1038.3 1211.5 1046.4 1212 1029.1 1212.5 1074.8 1213 1086.5 1213.5 1090.7 1214 1107.8 1214.5 1086.8 1215 1108 1215.5 1084.9 1216 1097 1216.5 1125 1217 1115.8 1217.5 1122.8 1218 1150.7 1218.5 1131.4 1219 1168.8 1219.5 1117.6 1220 1132 1220.5 1128.4 1221 1137.8 1221.5 1193.6 1222 1134.8 1222.5 1161.5 1223 1186 1223.5 1196.8 1224 1201.1 1224.5 1171.4 1225 1159.2 1225.5 1204 1226 1159.4 1226.5 1161.8 1227 1179.6 1227.5 1201.7 1228 1204 1228.5 1204 1229 1202.8 1229.5 1198.9 1230 1204 1230.5 1204 1231 1196.4 1231.5 1182 1232 1189.4 1232.5 1204 1233 1204 1233.5 1204 1234 1152.9 1234.5 1204 1235 1159.1 1235.5 1204 1236 1199.8 1236.5 1198.4 1237 1204 1237.5 1198.7 1238 1197.2 1238.5 1155.8 1239 1186.1 1239.5 1169.3 1240 1152.3 1240.5 1160 1241 1186.5 1241.5 1168.9 1242 1199.1 1242.5 1143.7 1243 1125.3 1243.5 1185.2 1244 1128.2 1244.5 1134.7 1245 1110.5 1245.5 1107.1 1246 1116.3 1246.5 1136.8 1247 1091.2 1247.5 1136.3 1248 1144.8 1248.5 1095.4 1249 1112 1249.5 1104.7 1250 1099.6 1250.5 1102.5 1251 1123.3 1251.5 1077.8 1252 1112.8 1252.5 1107.3 1253 1080.3 1253.5 1086.4 1254 1118.2 1254.5 1115.7 1255 1098 1255.5 1115.1 1256 1082.7 1256.5 1084.7 1257 1068 1257.5 1083.9 1258 1062.7 1258.5 1065.4 1259 1083.4 1259.5 1073.6 1260 1075.7 1260.5 1074.2 1261 1066.9 1261.5 1053.6 1262 1061.1 1262.5 1046.1 1263 1046.3 1263.5 1046.6 1264 1038.7 1264.5 1036.4 1265 1013.5 1265.5 1042.3 1266 1033.2 1266.5 1028.7 1267 1019 1267.5 1016 1268 1008.5 1268.5 1006.6 1269 987 1269.5 998 1270 998.4 1270.5 987.7 1271 992.4 1271.5 989.9 1272 979.7 1272.5 963.8 1273 957.8 1273.5 951.3 1274 930.8 1274.5 931.9 1275 922.7 1275.5 935.8 1276 935 1276.5 922.6 1277 931.6 1277.5 927.1 1278 913.2 1278.5 914 1279 910.3 1279.5 897.5 1280 895.6 1280.5 890.2 1281 867.2 1281.5 864.6 1282 836.6 1282.5 849.5 1283 861.4 1283.5 802.3 1284 864.4 1284.5 858.8 1285 853.1 1285.5 842.4 1286 833.1 1286.5 814 1287 806.3 1287.5 799.4 1288 799.8 1288.5 792.2 1289 788.6 1289.5 786.7 1290 781.9 1290.5 783.8 1291 771.5 1291.5 762.9 1292 751.4 1292.5 741.8 1293 744.8 1293.5 747.9 1294 736.8 1294.5 730.3 1295 715.4 1295.5 700.6 1296 698.5 1296.5 689.2 1297 682 1297.5 676.5 1298 678.1 1298.5 663.6 1299 655.3 1299.5 634.8 1300 626.4 1300.5 605.4 1301 594.7 1301.5 592.5 1302 581.8 1302.5 575 1303 559.9 1303.5 556.8 1304 536.4 1304.5 532.7 1305 519.5 1305.5 506.9 1306 503.8 1306.5 494.7 1307 492.3 1307.5 474.1 1308 475.6 1308.5 456.8 1309 427 1309.5 412.5 1310 406.9 1310.5 402.9 1311 383.1 1311.5 399.5 1312 379.1 1312.5 389.8 1313 374.6 1313.5 357.6 1314 346.2 1314.5 333.6 1315 332.5 1315.5 351.5 1316 359 1316.5 364.5 1317 344.7 1317.5 398 1318 329.2 1318.5 343.4 1319 338.7 1319.5 312.8 1320 317.8 1320.5 337.4 1321 339.8 1321.5 343.9 1322 329.2 1322.5 321.2 1323 308.6 1323.5 319.8 1324 315.2 1324.5 303 1325 316.3 1325.5 303 1326 303 1326.5 306.2 1327 321.3 1327.5 312.1 1328 312 1328.5 308.2 1329 317.1 1329.5 332.7 1330 303.7 1330.5 315.8 1331 314.8 1331.5 303 1332 303 1332.5 319.6 1333 327.4 1333.5 329.4 1334 313.4 1334.5 339.6 1335 340.6 1335.5 321.4 1336 329 1336.5 340.4 1337 337 1337.5 322 1338 315.5 1338.5 349.1 1339 358.8 1339.5 349.6 1340 344.5 1340.5 321.9 1341 360.3 1341.5 352.1 1342 346.7 1342.5 342.9 1343 345.3 1343.5 340.7 1344 350.9 1344.5 376.2 1345 356.5 1345.5 383.5 1346 392.1 1346.5 390.9 1347 398.4 1347.5 393.1 1348 406.9 1348.5 410.7 1349 415.3 1349.5 416.2 1350 434.5 1350.5 442.8 1351 448.9 1351.5 462.3 1352 465.8 1352.5 484.7 1353 482.5 1353.5 496.1 1354 492.4 1354.5 511.1 1355 506.7 1355.5 525.4 1356 532.2 1356.5 548.1 1357 572.3 1357.5 576.3 1358 596.6 1358.5 608.7 1359 637.9 1359.5 665.7 1360 700.6 1360.5 724.6 1361 756.2 1361.5 746.2 1362 761.6 1362.5 757.4 1363 779.8 1363.5 793.4 1364 804.1 1364.5 811.1 1365 804.5 1365.5 804.7 1366 813.6 1366.5 809 1367 803.6 1367.5 803.4 1368 819.5 1368.5 822.7 1369 844.2 1369.5 847.6 1370 863.5 1370.5 862.6 1371 881.6 1371.5 889.4 1372 914.9 1372.5 924.9 1373 933.6 1373.5 959.1 1374 966.9 1374.5 970.9 1375 986 1375.5 983.5 1376 997.6 1376.5 993.2 1377 1011.5 1377.5 1004.7 1378 1023.1 1378.5 1022 1379 1028 1379.5 1034.1 1380 1027.7 1380.5 1035.2 1381 1039.5 1381.5 1061.6 1382 1060.4 1382.5 1076.4 1383 1077.9 1383.5 1077.2 1384 1099.5 1384.5 1083.4 1385 1088.2 1385.5 1093 1386 1104.1 1386.5 1064.1 1387 1088.8 1387.5 1112.9 1388 1101.5 1388.5 1093 1389 1136.7 1389.5 1119.6 1390 1108.5 1390.5 1096.4 1391 1140 1391.5 1134.8 1392 1119.3 1392.5 1177.4 1393 1178.9 1393.5 1179 1394 1172.6 1394.5 1154.4 1395 1143.8 1395.5 1177.4 1396 1150 1396.5 1190.3 1397 1154.1 1397.5 1149.8 1398 1196.7 1398.5 1165 1399 1186.9 1399.5 1177.5 1400 1198.1 1400.5 1186.6 1401 1204 1401.5 1197.8 1402 1204 1402.5 1204 1403 1153 1403.5 1168.1 1404 1176.6 1404.5 1167 1405 1161.3 1405.5 1204 1406 1143.1 1406.5 1147.1 1407 1180.4 1407.5 1134.6 1408 1127.8 1408.5 1183.5 1409 1171.9 1409.5 1154.1 1410 1136 1410.5 1147.4 1411 1197.2 1411.5 1179.2 1412 1170.1 1412.5 1163 1413 1137 1413.5 1162.3 1414 1134.7 1414.5 1126.4 1415 1120.8 1415.5 1139.1 1416 1173.6 1416.5 1170.1 1417 1150.7 1417.5 1150.1 1418 1112 1418.5 1120.2 1419 1151.6 1419.5 1153.9 1420 1118.2 1420.5 1132.1 1421 1134.9 1421.5 1132.6 1422 1092.2 1422.5 1108.9 1423 1096 1423.5 1100.9 1424 1102.2 1424.5 1095 1425 1084.3 1425.5 1113.5 1426 1107.9 1426.5 1109.5 1427 1081.1 1427.5 1079.4 1428 1084.8 1428.5 1087.7 1429 1066.8 1429.5 1053 1430 1057.4 1430.5 1061.6 1431 1057.2 1431.5 1056.8 1432 1048 1432.5 1045.2 1433 1019.7 1433.5 1048.1 1434 1043.9 1434.5 1030.3 1435 1022.2 1435.5 1015.6 1436 1020.8 1436.5 1017.8 1437 1006.2 1437.5 1012.3 1438 1002.7 1438.5 1001.9 1439 1001.1 1439.5 991.8 1440 987.2 1440.5 987.2 1441 972 1441.5 967.4 1442 952.2 1442.5 955.5 1443 939.7 1443.5 939.1 1444 938.3 1444.5 926.1 1445 925.4 1445.5 921.4 1446 912.6 1446.5 908.1 1447 896.2 1447.5 876 1448 878.8 1448.5 866.4 1449 860.6 1449.5 843.5 1450 837.8 1450.5 829.5 1451 818.8 1451.5 808 1452 790 1452.5 793.9 1453 785.6 1453.5 783.6 1454 781.8 1454.5 752.8 1455 766 1455.5 753.7 1456 740.6 1456.5 722.9 1457 716.5 1457.5 704.3 1458 708.7 1458.5 706 1459 689 1459.5 691.2 1460 681.8 1460.5 662.2 1461 667.4 1461.5 652.2 1462 640.9 1462.5 628.7 1463 631.2 1463.5 612.5 1464 602 1464.5 583.6 1465 578.8 1465.5 567.2 1466 568.9 1466.5 563.9 1467 561.9 1467.5 549.2 1468 537.6 1468.5 538.6 1469 525.8 1469.5 508.1 1470 510.2 1470.5 493.6 1471 490.1 1471.5 487.1 1472 485.4 1472.5 483.9 1473 472.1 1473.5 464.7 1474 454.2 1474.5 435.2 1475 433.7 1475.5 427.3 1476 432.5 1476.5 435.5 1477 429.7 1477.5 426.7 1478 419.2 1478.5 403 1479 397.9 1479.5 402.8 1480 400.7 1480.5 377.5 1481 369.4 1481.5 390.7 1482 398.3 1482.5 370.3 1483 370.9 1483.5 360.7 1484 367.9 1484.5 347.6 1485 352.7 1485.5 357.1 1486 337.6 1486.5 345.6 1487 322.5 1487.5 329.7 1488 329.2 1488.5 318 1489 342.7 1489.5 339.4 1490 352 1490.5 336.5 1491 337.3 1491.5 354.1 1492 355.7 1492.5 339.3 1493 344.8 1493.5 318 1494 348.2 1494.5 354.2 1495 353.5 1495.5 359.2 1496 363.9 1496.5 350.7 1497 362.2 1497.5 362.3 1498 358.9 1498.5 354.2 1499 352.2 1499.5 363.8 1500 387.5 1500.5 377.2 1501 379.6 1501.5 389.7 1502 401.9 1502.5 408.2 1503 419 1503.5 420.2 1504 422.5 1504.5 418.1 1505 404.3 1505.5 394 1506 410.7 1506.5 395.5 1507 408.1 1507.5 406.4 1508 425 1508.5 418.1 1509 426.7 1509.5 424.4 1510 437.1 1510.5 432.1 1511 433.2 1511.5 430.5 1512 433.9 1512.5 453.9 1513 461 1513.5 468.8 1514 479.8 1514.5 477.5 1515 473.9 1515.5 481.6 1516 476.4 1516.5 479.9 1517 479.5 1517.5 482.5 1518 490.7 1518.5 492.3 1519 490.2 1519.5 508.2 1520 507.4 1520.5 511.4 1521 513.3 1521.5 524.4 1522 523.5 1522.5 523.1 1523 531.9 1523.5 544.5 1524 546.5 1524.5 553.8 1525 559.9 1525.5 562.8 1526 567.4 1526.5 573.2 1527 590.1 1527.5 592.2 1528 602.5 1528.5 618.5 1529 621.6 1529.5 631.7 1530 640.2 1530.5 655.9 1531 656.2 1531.5 676.1 1532 698.8 1532.5 703.2 1533 723.3 1533.5 723.6 1534 733.8 1534.5 758.8 1535 762.2 1535.5 775 1536 793.8 1536.5 795.2 1537 820.9 1537.5 825.8 1538 836.8 1538.5 835.3 1539 863.1 1539.5 870.5 1540 884.5 1540.5 878.5 1541 886.9 1541.5 898.6 1542 917 1542.5 931.1 1543 936.7 1543.5 947.8 1544 955.8 1544.5 953 1545 964.4 1545.5 986.2 1546 987.6 1546.5 1010.9 1547 1011.9 1547.5 1022.9 1548 1026.7 1548.5 1035.1 1549 1040.8 1549.5 1047.2 1550 1054.1 1550.5 1066.3 1551 1038.3 1551.5 1073.4 1552 1090.2 1552.5 1121.5 1553 1086.9 1553.5 1112.9 1554 1097.8 1554.5 1104.4 1555 1085.9 1555.5 1089.8 1556 1102.5 1556.5 1130.4 1557 1107.9 1557.5 1100.9 1558 1102.4 1558.5 1154.4 1559 1123.3 1559.5 1113.3 1560 1146.3 1560.5 1166.6 1561 1153.2 1561.5 1123.3 1562 1143.3 1562.5 1135.5 1563 1121.6 1563.5 1196.7 1564 1170.1 1564.5 1158.6 1565 1204 1565.5 1204 1566 1204 1566.5 1192.5 1567 1175 1567.5 1199.5 1568 1197 1568.5 1204 1569 1204 1569.5 1201.5 1570 1181.4 1570.5 1195.4 1571 1183.8 1571.5 1190.4 1572 1150.7 1572.5 1145.4 1573 1139.4 1573.5 1148.3 1574 1148.1 1574.5 1187 1575 1134.8 1575.5 1138.5 1576 1177.1 1576.5 1175.9 1577 1175.4 1577.5 1173.2 1578 1167.3 1578.5 1158.8 1579 1172.4 1579.5 1126.1 1580 1134.4 1580.5 1167.2 1581 1126.3 1581.5 1142.5 1582 1119.6 1582.5 1125 1583 1144.5 1583.5 1129.6 1584 1112.7 1584.5 1098.6 1585 1124 1585.5 1112.3 1586 1099.1 1586.5 1123 1587 1117.5 1587.5 1137.5 1588 1127.2 1588.5 1142.3 1589 1125.9 1589.5 1140.8 1590 1128.8 1590.5 1112.3 1591 1095.7 1591.5 1095.5 1592 1070.2 1592.5 1045.5 1593 1098.5 1593.5 1108.1 1594 1087.3 1594.5 1088.3 1595 1098 1595.5 1074.5 1596 1080.2 1596.5 1061.2 1597 1054.2 1597.5 1050.2 1598 1047.9 1598.5 1053.1 1599 1048 1599.5 1060.1 1600 1060.8 1600.5 1044.8 1601 1041.4 1601.5 1037.3 1602 1048.5 1602.5 1030.7 1603 1035.9 1603.5 1025.1 1604 1018.2 1604.5 1013.5 1605 1015.2 1605.5 999.3 1606 1007.9 1606.5 998.7 1607 989.3 1607.5 985 1608 988.4 1608.5 984.2 1609 975.4 1609.5 971.6 1610 969.6 1610.5 972.7 1611 962.7 1611.5 963.2 1612 955.3 1612.5 948.9 1613 942 1613.5 948.7 1614 928.9 1614.5 925.8 1615 909.8 1615.5 904.7 1616 906.2 1616.5 890.9 1617 889.4 1617.5 880.9 1618 862.8 1618.5 841.6 1619 836.5 1619.5 818.7 1620 797.2 1620.5 792.9 1621 775.7 1621.5 757.9 1622 752.3 1622.5 746.7 1623 743 1623.5 734.2 1624 708.8 1624.5 692.8 1625 687.9 1625.5 671.2 1626 660.6 1626.5 657.9 1627 652.2 1627.5 646.3 1628 636.3 1628.5 616.2 1629 609.5 1629.5 606.6 1630 602.9 1630.5 580.6 1631 580.7 1631.5 573.1 1632 568.1 1632.5 560.6 1633 554.7 1633.5 547.9 1634 539.5 1634.5 541.1 1635 534.6 1635.5 534.8 1636 529.4 1636.5 529.4 1637 513.3 1637.5 484.9 1638 498.9 1638.5 496.3 1639 493.5 1639.5 484.1 1640 483.6 1640.5 485.8 1641 475.5 1641.5 478.2 1642 464.5 1642.5 458.2 1643 456.1 1643.5 455.2 1644 451.8 1644.5 437.8 1645 436.4 1645.5 444.2 1646 442 1646.5 437.1 1647 438.4 1647.5 441.5 1648 416.9 1648.5 411.1 1649 405.5 1649.5 405.6 1650 410.8 1650.5 410.8 1651 410 1651.5 403.7 1652 380 1652.5 383.6 1653 388 1653.5 372.9 1654 380.7 1654.5 366.3 1655 370.6 1655.5 375.1 1656 362.7 1656.5 368.2 1657 356.9 1657.5 396.4 1658 348.7 1658.5 346.3 1659 355.5 1659.5 344.1 1660 323.1 1660.5 323 1661 330.4 1661.5 320 1662 336.1 1662.5 324.1 1663 340.3 1663.5 323.7 1664 339.3 1664.5 346.4 1665 329.5 1665.5 337.9 1666 338.6 1666.5 356.6 1667 332.1 1667.5 344.8 1668 345.2 1668.5 365.7 1669 373.7 1669.5 354.7 1670 378.8 1670.5 373.5 1671 359.3 1671.5 378.6 1672 363.3 1672.5 380 1673 365.5 1673.5 380.2 1674 385.4 1674.5 398.1 1675 398.4 1675.5 392.9 1676 383.3 1676.5 396.7 1677 422.2 1677.5 421.9 1678 420.3 1678.5 418.1 1679 418.9 1679.5 427 1680 409.3 1680.5 421.4 1681 415.5 1681.5 409.8 1682 417.5 1682.5 415.8 1683 417.3 1683.5 430.2 1684 430.6 1684.5 437.8 1685 449.6 1685.5 460.3 1686 452.3 1686.5 459.6 1687 468.9 1687.5 467.9 1688 470.7 1688.5 469.2 1689 470.9 1689.5 475.3 1690 481.5 1690.5 486.6 1691 492.9 1691.5 498.8 1692 502.7 1692.5 512.5 1693 521.8 1693.5 519.7 1694 514.6 1694.5 527.1 1695 519.1 1695.5 540.8 1696 588.5 1696.5 557.2 1697 567.5 1697.5 585.5 1698 581.6 1698.5 588.4 1699 601.2 1699.5 601.9 1700 608.7 1700.5 618.7 1701 633 1701.5 680.1 1702 704.3 1702.5 717.5 1703 747.7 1703.5 761.4 1704 778.5 1704.5 792.5 1705 809.7 1705.5 809.8 1706 839.1 1706.5 846.8 1707 858.1 1707.5 875.1 1708 887 1708.5 905.2 1709 906.9 1709.5 906.2 1710 923.2 1710.5 927.3 1711 940.9 1711.5 938.1 1712 961.8 1712.5 973.7 1713 971.9 1713.5 993 1714 1001.7 1714.5 1021.8 1715 1026.2 1715.5 1046.5 1716 1039.1 1716.5 1047.8 1717 1046.4 1717.5 1067.2 1718 1036 1718.5 1054.4 1719 1040.2 1719.5 1055.9 1720 1070.7 1720.5 1091.8 1721 1095.1 1721.5 1091.2 1722 1109.7 1722.5 1113.7 1723 1109.2 1723.5 1096.4 1724 1087.3 1724.5 1079 1725 1108.9 1725.5 1123.3 1726 1122.2 1726.5 1160.6 1727 1120.6 1727.5 1163.3 1728 1161.6 1728.5 1179.3 1729 1186.2 1729.5 1143 1730 1199.4 1730.5 1169.2 1731 1195.2 1731.5 1204 1732 1199 1732.5 1197.3 1733 1162.1 1733.5 1201.9 1734 1177.9 1734.5 1189.1 1735 1187.3 1735.5 1204 1736 1198.5 1736.5 1199.7 1737 1155.2 1737.5 1161.4 1738 1201.2 1738.5 1146.7 1739 1204 1739.5 1169.5 1740 1165.4 1740.5 1171.4 1741 1162.4 1741.5 1160.5 1742 1154.6 1742.5 1173.9 1743 1144.3 1743.5 1138.3 1744 1158.9 1744.5 1133.2 1745 1155.3 1745.5 1152.4 1746 1164.8 1746.5 1110.4 1747 1124.2 1747.5 1146 1748 1116.6 1748.5 1149.3 1749 1143.5 1749.5 1103.8 1750 1124.1 1750.5 1143.8 1751 1126.6 1751.5 1130.7 1752 1144 1752.5 1124.5 1753 1116 1753.5 1129.2 1754 1106.8 1754.5 1084.4 1755 1096.8 1755.5 1102.6 1756 1112.8 1756.5 1094.5 1757 1078.9 1757.5 1104.1 1758 1080.2 1758.5 1072.3 1759 1080.5 1759.5 1069.9 1760 1058.8 1760.5 1072.1 1761 1068 1761.5 1072.9 1762 1053.1 1762.5 1070.4 1763 1067.9 1763.5 1057.3 1764 1058.4 1764.5 1056.3 1765 1045.2 1765.5 1035.4 1766 1040.7 1766.5 1029.7 1767 1024.7 1767.5 1008 1768 1022.1 1768.5 1011.6 1769 1004.4 1769.5 1008.6 1770 995.1 1770.5 999.2 1771 991.2 1771.5 1000.6 1772 1001.5 1772.5 1002.7 1773 995.3 1773.5 986.9 1774 987.7 1774.5 986 1775 971.3 1775.5 963.4 1776 964.9 1776.5 976.9 1777 962.1 1777.5 961.3 1778 958 1778.5 964.1 1779 947.5 1779.5 943.6 1780 936.3 1780.5 926.7 1781 928.7 1781.5 923.5 1782 924.4 1782.5 918.3 1783 907.5 1783.5 925.3 1784 890.2 1784.5 877.2 1785 874.1 1785.5 854.7 1786 841.7 1786.5 842.6 1787 834 1787.5 803.4 1788 816.2 1788.5 812.6 1789 799.5 1789.5 785.1 1790 793 1790.5 780.8 1791 779.3 1791.5 756.1 1792 749.1 1792.5 757.9 1793 733.4 1793.5 720 1794 720.7 1794.5 720 1795 716 1795.5 704.8 1796 700.4 1796.5 698.6 1797 680.7 1797.5 667.3 1798 661.1 1798.5 644.1 1799 627.7 1799.5 633.1 1800 620.7 1800.5 625.8 1801 616.9 1801.5 610 1802 597.3 1802.5 589.8 1803 571.2 1803.5 560.7 1804 562 1804.5 544.7 1805 542.5 1805.5 543.4 1806 531.2 1806.5 525 1807 525.9 1807.5 506.5 1808 499.6 1808.5 503.9 1809 489.8 1809.5 474.7 1810 494.2 1810.5 482.6 1811 490 1811.5 482.6 1812 477.4 1812.5 461.2 1813 454.4 1813.5 456.9 1814 451.5 1814.5 433.1 1815 424.9 1815.5 417.8 1816 408.3 1816.5 408.5 1817 406.5 1817.5 407.6 1818 393.9 1818.5 396.8 1819 393.7 1819.5 394 1820 386 1820.5 397.6 1821 374.2 1821.5 359.8 1822 368.4 1822.5 374.1 1823 368.9 1823.5 360.7 1824 359.8 1824.5 314 1825 373.9 1825.5 366.4 1826 360.1 1826.5 343.4 1827 349.3 1827.5 338.2 1828 336.8 1828.5 319.1 1829 320.6 1829.5 319.5 1830 341.7 1830.5 336.2 1831 337.7 1831.5 333.9 1832 333.2 1832.5 322.3 1833 336.1 1833.5 319.9 1834 339.7 1834.5 323.1 1835 355.1 1835.5 353.9 1836 333.4 1836.5 354.2 1837 359.1 1837.5 340.7 1838 362.2 1838.5 364.8 1839 377.3 1839.5 391 1840 391.6 1840.5 381.6 1841 404.3 1841.5 395.3 1842 381.4 1842.5 384 1843 388.3 1843.5 381.8 1844 386.3 1844.5 391.2 1845 399.2 1845.5 392 1846 403.7 1846.5 416.1 1847 425.1 1847.5 435 1848 429.8 1848.5 451.9 1849 440.2 1849.5 440.7 1850 446.8 1850.5 450.1 1851 457.9 1851.5 458.9 1852 480.1 1852.5 486.2 1853 499.4 1853.5 500.1 1854 496.9 1854.5 496.5 1855 506 1855.5 502.8 1856 505.6 1856.5 493.4 1857 515.3 1857.5 530.2 1858 537.7 1858.5 558.9 1859 558.4 1859.5 582 1860 591.9 1860.5 596.8 1861 616.3 1861.5 626.8 1862 688.7 1862.5 675.9 1863 692.4 1863.5 707.5 1864 728.7 1864.5 723.7 1865 732.1 1865.5 748.7 1866 754.3 1866.5 763.9 1867 770.8 1867.5 775.2 1868 785.8 1868.5 789.5 1869 785 1869.5 790.6 1870 804.6 1870.5 806.3 1871 817.6 1871.5 828.6 1872 820.5 1872.5 833.9 1873 834.1 1873.5 831 1874 834.7 1874.5 849.5 1875 859 1875.5 882.5 1876 893.6 1876.5 901.6 1877 919.4 1877.5 923.7 1878 923 1878.5 938.6 1879 957.5 1879.5 980 1880 983 1880.5 997.7 1881 1017.6 1881.5 1018.2 1882 1032.1 1882.5 1026.7 1883 1037.2 1883.5 1040 1884 1058.2 1884.5 1059.1 1885 1057.5 1885.5 1058.3 1886 1069.5 1886.5 1062.3 1887 1077.4 1887.5 1091.8 1888 1084 1888.5 1087.4 1889 1107.1 1889.5 1107.2 1890 1152.7 1890.5 1114.7 1891 1155.4 1891.5 1129.3 1892 1155 1892.5 1159.2 1893 1116.6 1893.5 1165.8 1894 1185.1 1894.5 1163.8 1895 1174.7 1895.5 1155.9 1896 1148.9 1896.5 1193.6 1897 1203.3 1897.5 1163.9 1898 1162.4 1898.5 1184.3 1899 1204 1899.5 1189.6 1900 1204 1900.5 1204 1901 1204 1901.5 1197.2 1902 1204 1902.5 1204 1903 1157 1903.5 1196.7 1904 1168.2 1904.5 1204 1905 1164.3 1905.5 1194.9 1906 1159.3 1906.5 1176.9 1907 1175.2 1907.5 1190 1908 1204 1908.5 1155.9 1909 1174 1909.5 1136.6 1910 1128.4 1910.5 1169.5 1911 1179.5 1911.5 1164.4 1912 1145.2 1912.5 1151.7 1913 1158.6 1913.5 1148.4 1914 1135.9 1914.5 1170.8 1915 1139.4 1915.5 1174.9 1916 1204 1916.5 1163.6 1917 1162.4 1917.5 1167.3 1918 1162.3 1918.5 1113.6 1919 1116.1 1919.5 1133.3 1920 1143.6 1920.5 1122.2 1921 1087.8 1921.5 1087.8 1922 1109 1922.5 1125.4 1923 1124.8 1923.5 1096.2 1924 1098.9 1924.5 1094.9 1925 1074.2 1925.5 1070 1926 1092.7 1926.5 1094.5 1927 1110.6 1927.5 1088.3 1928 1110.6 1928.5 1087.8 1929 1088.5 1929.5 1082.6 1930 1056.6 1930.5 1065.5 1931 1056.8 1931.5 1051.2 1932 1032.4 1932.5 1042.2 1933 1041.7 1933.5 1042.4 1934 1026.4 1934.5 1018.1 1935 1021.1 1935.5 1005.1 1936 996.9 1936.5 995.1 1937 1003.9 1937.5 1003.3 1938 1007.2 1938.5 1006.9 1939 990.3 1939.5 999.2 1940 990.9 1940.5 983.8 1941 973.4 1941.5 960 1942 951.1 1942.5 955.4 1943 941.7 1943.5 937.8 1944 937.5 1944.5 935.2 1945 934.4 1945.5 932.8 1946 929.5 1946.5 929.4 1947 915.5 1947.5 902.1 1948 899.4 1948.5 867 1949 873.5 1949.5 858.7 1950 854.8 1950.5 869.6 1951 870.8 1951.5 858.3 1952 857.8 1952.5 836.9 1953 852.6 1953.5 818.1 1954 799.1 1954.5 796.4 1955 792.4 1955.5 777.2 1956 784.4 1956.5 769.3 1957 769 1957.5 765.1 1958 759 1958.5 757.3 1959 747.8 1959.5 729.4 1960 724.7 1960.5 733.8 1961 719.7 1961.5 711.7 1962 697.5 1962.5 694.3 1963 653.8 1963.5 669.5 1964 655.3 1964.5 655.8 1965 638.8 1965.5 628.8 1966 626.6 1966.5 619.3 1967 599.1 1967.5 588.7 1968 577.7 1968.5 578.5 1969 575.8 1969.5 560 1970 559.5 1970.5 550.7 1971 533.5 1971.5 530.3 1972 518 1972.5 511.6 1973 522.1 1973.5 537.7 1974 511.2 1974.5 513.3 1975 525.3 1975.5 489.1 1976 491.7 1976.5 470.6 1977 464 1977.5 465.6 1978 463.2 1978.5 461.1 1979 451.6 1979.5 455.4 1980 453.4 1980.5 435.1 1981 443.1 1981.5 418.5 1982 423.6 1982.5 409.4 1983 404.2 1983.5 377.7 1984 412 1984.5 387.7 1985 401.6 1985.5 378.6 1986 379.2 1986.5 374.1 1987 393.7 1987.5 369.1 1988 388.9 1988.5 370.7 1989 384.9 1989.5 373.7 1990 353.5 1990.5 355 1991 339.5 1991.5 343.3 1992 356.1 1992.5 347.6 1993 343.4 1993.5 331.6 1994 321.7 1994.5 350.8 1995 327.5 1995.5 329.1 1996 320 1996.5 330.4 1997 330.4 1997.5 333.6 1998 387.6 1998.5 321.8 1999 339 1999.5 324.5 2000 330.2 2000.5 341.3 2001 342.7 2001.5 364.9 2002 354.4 2002.5 368.6 2003 415.9 2003.5 374.8 2004 391.6 2004.5 377 2005 377 2005.5 376.8 2006 386.1 2006.5 371.8 2007 391.1 2007.5 398.9 2008 374.5 2008.5 389.4 2009 407.7 2009.5 397.5 2010 395.4 2010.5 385.2 2011 403.7 2011.5 412.6 2012 415.1 2012.5 414.4 2013 418 2013.5 436.2 2014 435.7 2014.5 446.4 2015 444.8 2015.5 448 2016 451.2 2016.5 444 2017 429.9 2017.5 450.1 2018 467 2018.5 469 2019 463.1 2019.5 456.4 2020 457.3 2020.5 465.7 2021 470.3 2021.5 474.6 2022 481.2 2022.5 498.4 2023 508.2 2023.5 503.2 2024 513.5 2024.5 520.3 2025 532.2 2025.5 542.5 2026 549 2026.5 565.1 2027 564.4 2027.5 567.5 2028 577.6 2028.5 584.2 2029 585.7 2029.5 581.5 2030 592.8 2030.5 610.9 2031 636.6 2031.5 661 2032 691.4 2032.5 703.8 2033 721.8 2033.5 714.2 2034 726 2034.5 737 2035 748.8 2035.5 761.2 2036 766.7 2036.5 775.3 2037 794.4 2037.5 792.7 2038 791.2 2038.5 791.4 2039 822.8 2039.5 812.7 2040 816 2040.5 821.4 2041 833.8 2041.5 847.9 2042 845.8 2042.5 857.2 2043 871.8 2043.5 887.2 2044 902.8 2044.5 917.1 2045 941 2045.5 955.9 2046 967.3 2046.5 960.9 2047 965.7 2047.5 979.8 2048 956.4 2048.5 986.9 2049 1005.2 2049.5 1008.6 2050 1027.4 2050.5 1021.8 2051 1020.5 2051.5 1035.9 2052 1017.4 2052.5 1048.9 2053 1054.7 2053.5 1073.5 2054 1077.4 2054.5 1089.3 2055 1105.6 2055.5 1093.8 2056 1107.1 2056.5 1115.6 2057 1100.3 2057.5 1076.5 2058 1130.1 2058.5 1099.2 2059 1115.1 2059.5 1130.9 2060 1139.1 2060.5 1123 2061 1127.4 2061.5 1138.1 2062 1128.5 2062.5 1120.5 2063 1134.2 2063.5 1138.4 2064 1137.4 2064.5 1164.5 2065 1161.8 2065.5 1157.7 2066 1182.3 2066.5 1193.4 2067 1185.5 2067.5 1199.4 2068 1204 2068.5 1154.3 2069 1204 2069.5 1204 2070 1178.8 2070.5 1204 2071 1202.3 2071.5 1204 2072 1204 2072.5 1176.4 2073 1200.4 2073.5 1204 2074 1152.2 2074.5 1174.7 2075 1198.5 2075.5 1138.7 2076 1128.1 2076.5 1138.2 2077 1147 2077.5 1143.9 2078 1149.7 2078.5 1178.4 2079 1150.3 2079.5 1148 2080 1109.5 2080.5 1101.7 2081 1154.2 2081.5 1115.2 2082 1151.1 2082.5 1116 2083 1134.3 2083.5 1135.5 2084 1103.5 2084.5 1100.4 2085 1115.7 2085.5 1094.6 2086 1097.3 2086.5 1087 2087 1088.2 2087.5 1092.3 2088 1085.2 2088.5 1087.5 2089 1096.3 2089.5 1106.8 2090 1081.2 2090.5 1120.5 2091 1095.7 2091.5 1112.5 2092 1074 2092.5 1074.1 2093 1073.3 2093.5 1100.8 2094 1081.2 2094.5 1093.6 2095 1085.5 2095.5 1063.1 2096 1068.2 2096.5 1064 2097 1064.4 2097.5 1069.4 2098 1050.2 2098.5 1067.8 2099 1055.6 2099.5 1051.9 2100 1057.2 2100.5 1049.9 2101 1057.1 2101.5 1052.1 2102 1051.4 2102.5 1042.7 2103 1036.1 2103.5 1037.7 2104 1023.3 2104.5 1011.6 2105 1010.3 2105.5 1008.6 2106 995.4 2106.5 1008.9 2107 992.5 2107.5 999.2 2108 987.5 2108.5 978.7 2109 972.9 2109.5 966 2110 957.2 2110.5 958.5 2111 961.5 2111.5 949.1 2112 949.6 2112.5 952.8 2113 944.6 2113.5 936.3 2114 893.4 2114.5 927.5 2115 923.9 2115.5 917.2 2116 906.7 2116.5 888.5 2117 884.3 2117.5 867.5 2118 845.6 2118.5 847.4 2119 829.4 2119.5 833.3 2120 832.5 2120.5 834.7 2121 827.2 2121.5 824.9 2122 799 2122.5 785.4 2123 774.7 2123.5 769.6 2124 758.8 2124.5 767.9 2125 744.3 2125.5 744.7 2126 734.3 2126.5 730.6 2127 715.4 2127.5 711.9 2128 701.6 2128.5 690.4 2129 681.3 2129.5 670.7 2130 660.9 2130.5 647.7 2131 631.4 2131.5 612.3 2132 604.1 2132.5 589.8 2133 598.1 2133.5 592.7 2134 586.4 2134.5 589.2 2135 583.2 2135.5 572 2136 564.1 2136.5 545 2137 531.7 2137.5 530.9 2138 520.4 2138.5 520.5 2139 513.7 2139.5 509 2140 498.2 2140.5 490.2 2141 480.6 2141.5 469.2 2142 470.1 2142.5 456.5 2143 453.4 2143.5 452.5 2144 455.9 2144.5 450.9 2145 437.8 2145.5 425.6 2146 424.4 2146.5 423.3 2147 407.5 2147.5 414.9 2148 413.3 2148.5 401.3 2149 389 2149.5 393.4 2150 376.2 2150.5 375.1 2151 377 2151.5 387.5 2152 363.2 2152.5 357.8 2153 365.1 2153.5 367.9 2154 329.1 2154.5 336.5 2155 309 2155.5 322.1 2156 309.4 2156.5 316.8 2157 327.6 2157.5 341.3 2158 328.1 2158.5 317.7 2159 314.2 2159.5 308.7 2160 299.8 2160.5 292 2161 300.3 2161.5 295.6 2162 310.7 2162.5 301.3 2163 292 2163.5 315.2 2164 323.4 2164.5 316.2 2165 298.4 2165.5 314.5 2166 299.5 2166.5 319.1 2167 300.1 2167.5 317.1 2168 306.6 2168.5 335 2169 316.9 2169.5 343.3 2170 357.6 2170.5 344.5 2171 357.8 2171.5 350.5 2172 378.1 2172.5 346.1 2173 338.4 2173.5 359.1 2174 344.7 2174.5 353 2175 355.2 2175.5 380.5 2176 377.1 2176.5 378.7 2177 333 2177.5 391.9 2178 388.2 2178.5 386.5 2179 382.6 2179.5 389.4 2180 403.1 2180.5 395.5 2181 396.7 2181.5 410.3 2182 394.2 2182.5 397.4 2183 415.6 2183.5 419.3 2184 399.7 2184.5 400.1 2185 402.7 2185.5 420 2186 419.3 2186.5 437.4 2187 448.9 2187.5 444.5 2188 465.1 2188.5 455.8 2189 460.7 2189.5 456.5 2190 456.8 2190.5 460.3 2191 458.5 2191.5 471.2 2192 474.3 2192.5 480.1 2193 479.7 2193.5 484.1 2194 491.6 2194.5 499.4 2195 492.4 2195.5 510.9 2196 516.1 2196.5 517.3 2197 524.5 2197.5 546 2198 577.4 2198.5 547.9 2199 565.3 2199.5 576.1 2200 589.7 2200.5 604.1 2201 598 2201.5 602.9 2202 603.5 2202.5 612 2203 619.7 2203.5 615.5 2204 640.4 2204.5 665.7 2205 670.6 2205.5 719.1 2206 747.7 2206.5 756.7 2207 782.7 2207.5 804 2208 813.3 2208.5 843.9 2209 861.5 2209.5 879.9 2210 853.7 2210.5 904 2211 908.9 2211.5 925.5 2212 926.9 2212.5 919.9 2213 935.4 2213.5 942.3 2214 965 2214.5 974.9 2215 1017.2 2215.5 992.4 2216 984.7 2216.5 990.3 2217 996 2217.5 1006.7 2218 1006.7 2218.5 1014.6 2219 1027.2 2219.5 1036.3 2220 1042 2220.5 1049.7 2221 1051.2 2221.5 1061.7 2222 1085.8 2222.5 1091.9 2223 1075.2 2223.5 1098.2 2224 1108.6 2224.5 1089.8 2225 1106.6 2225.5 1091.2 2226 1100.3 2226.5 1102.3 2227 1134.8 2227.5 1111.3 2228 1134.6 2228.5 1140.5 2229 1124.4 2229.5 1158.7 2230 1116.8 2230.5 1114.9 2231 1143.9 2231.5 1151.1 2232 1166.2 2232.5 1137.2 2233 1146.7 2233.5 1194.7 2234 1170.7 2234.5 1202.5 2235 1155 2235.5 1154.6 2236 1201.2 2236.5 1169.3 2237 1156.6 2237.5 1169.2 2238 1204 2238.5 1174.8 2239 1194 2239.5 1204 2240 1193.5 2240.5 1202.6 2241 1204 2241.5 1167.9 2242 1204 2242.5 1178.9 2243 1148 2243.5 1137.3 2244 1147.4 2244.5 1132.3 2245 1179.4 2245.5 1167.3 2246 1134 2246.5 1196.1 2247 1174.8 2247.5 1159.9 2248 1132.4 2248.5 1149.8 2249 1175.4 2249.5 1148 2250 1136.8 2250.5 1137.7 2251 1137.5 2251.5 1138.4 2252 1108.9 2252.5 1102.1 2253 1091.5 2253.5 1136 2254 1090.5 2254.5 1087.3 2255 1123.9 2255.5 1118.9 2256 1136.6 2256.5 1097.7 2257 1087.6 2257.5 1084.3 2258 1095 2258.5 1102.1 2259 1087.4 2259.5 1096.3 2260 1081.2 2260.5 1073.1 2261 1070.9 2261.5 1090.5 2262 1102.4 2262.5 1101.5 2263 1087.2 2263.5 1095.8 2264 1069.4 2264.5 1066 2265 1064.5 2265.5 1061.3 2266 1064.4 2266.5 1054.6 2267 1046.3 2267.5 1055.4 2268 1044.5 2268.5 1070.6 2269 1032.5 2269.5 1026.3 2270 1016.7 2270.5 1013.5 2271 1014 2271.5 1005.5 2272 999.2 2272.5 1004.4 2273 1002.3 2273.5 987 2274 986.8 2274.5 976.9 2275 973.6 2275.5 978.6 2276 977.3 2276.5 986.2 2277 969.7 2277.5 974.2 2278 967.1 2278.5 913.4 2279 942 2279.5 927.6 2280 918.5 2280.5 907.1 2281 912.8 2281.5 890.6 2282 884 2282.5 885.5 2283 874.9 2283.5 871.7 2284 866.4 2284.5 863.6 2285 872.5 2285.5 858 2286 853.2 2286.5 849.3 2287 828.9 2287.5 826.9 2288 805.4 2288.5 806.7 2289 807 2289.5 808.7 2290 814.5 2290.5 800.2 2291 800.1 2291.5 769.6 2292 763 2292.5 755.4 2293 741.6 2293.5 733.7 2294 733.1 2294.5 734.6 2295 736.4 2295.5 738.5 2296 731.2 2296.5 731.5 2297 720.2 2297.5 708.4 2298 701.9 2298.5 696.3 2299 694.1 2299.5 684.2 2300 683.2 2300.5 638.3 2301 658.7 2301.5 645.2 2302 639.8 2302.5 632.6 2303 640.2 2303.5 621.5 2304 648.7 2304.5 610.9 2305 589.7 2305.5 584.8 2306 565.5 2306.5 554.7 2307 545.3 2307.5 547.4 2308 550.8 2308.5 541.3" fill="none" stroke="#000" stroke-width="6" stroke-linejoin="miter" stroke-miterlimit="6"/>
</g>
<path d="M229 1018 230 1022.8 231 1027.4 232 1031.7 233 1035.6 234 1039.1 235 1042.1 236 1044.4 237 1046 238 1046.9 239 1047 240 1046.7 241 1046.3 242 1045.6 243 1044.7 244 1043.7 245 1042.5 246 1041.1 247 1039.7 248 1038.2 249 1036.5 250 1034.9 251 1033.1 252 1030.7 253 1027.9 254 1024.4 255 1020.5 256 1016.1 257 1011.3 258 1006.1 259 1000.5 260 994.6 261 988.4 262 981.9 263 975.2 264 968.3 265 961.2 266 953.9 267 946.6 268 939.2 269 931.7 270 924.2 271 916.1 272 907.3 273 898 274 888.1 275 877.7 276 866.9 277 855.7 278 844.2 279 832.3 280 820.2 281 807.9 282 795.4 283 782.8 284 770.1 285 757.3 286 744.6 287 732 288 719.4 289 707.1 290 694.8 291 681.9 292 668.2 293 653.8 294 638.9 295 623.6 296 607.9 297 592.2 298 576.4 299 560.8 300 545.4 301 530.5 302 516 303 502.3 304 489.4 305 477.4 306 466.5 307 456.8 308 448.5 309 441.6 310 436.3 311 431.5 312 426.8 313 422.2 314 417.7 315 413.4 316 409.2 317 405.3 318 401.5 319 397.9 320 394.5 321 391.4 322 388.6 323 386 324 383.7 325 381.7 326 380.1 327 378.7 328 377.8 329 377.2 330 377 331 377.8 332 380 333 383.6 334 388.5 335 394.5 336 401.6 337 409.6 338 418.5 339 428.1 340 438.3 341 449 342 460.2 343 471.7 344 483.3 345 495.1 346 506.8 347 518.5 348 529.9 349 541 350 551.7 351 561.9 352 572.4 353 583.3 354 594.6 355 606.2 356 618.2 357 630.4 358 642.9 359 655.5 360 668.2 361 681.1 362 693.9 363 706.8 364 719.7 365 732.4 366 745.1 367 757.6 368 769.8 369 781.8 370 793.6 371 804.9 372 815.9 373 826.5 374 836.6 375 846.4 376 856.3 377 866.3 378 876.3 379 886.2 380 896.1 381 905.9 382 915.6 383 925.1 384 934.5 385 943.5 386 952.3 387 960.8 388 968.9 389 976.6 390 983.9 391 990.8 392 997.1 393 1002.9 394 1008.1 395 1012.7 396 1016.8 397 1021 398 1025.2 399 1029.1 400 1032.7 401 1035.9 402 1038.5 403 1040.5 404 1041.7 405 1042 406 1041.8 407 1041.2 408 1040.4 409 1039.3 410 1038.1 411 1036.6 412 1035 413 1033.3 414 1031.5 415 1029.6 416 1027.5 417 1024.9 418 1021.8 419 1018.2 420 1014.1 421 1009.6 422 1004.7 423 999.4 424 993.7 425 987.8 426 981.5 427 975 428 968.2 429 961.3 430 954.2 431 946.9 432 939.5 433 932 434 924.5 435 917 436 909 437 900.4 438 891.3 439 881.6 440 871.4 441 860.8 442 849.8 443 838.5 444 826.8 445 814.9 446 802.7 447 790.3 448 777.8 449 765.2 450 752.5 451 739.7 452 727 453 714.3 454 701.8 455 689.3 456 676.9 457 663.6 458 649.4 459 634.4 460 618.9 461 602.9 462 586.6 463 570.3 464 553.9 465 537.8 466 522.1 467 506.9 468 492.4 469 478.7 470 466.1 471 454.6 472 444.5 473 435.8 474 428.8 475 423.6 476 419.6 477 415.7 478 411.9 479 408.2 480 404.7 481 401.2 482 397.9 483 394.7 484 391.7 485 388.9 486 386.1 487 383.6 488 381.2 489 379 490 377 491 375.1 492 373.5 493 372.1 494 370.8 495 369.8 496 369 497 368.4 498 368.1 499 368 500 368.9 501 371.1 502 374.6 503 379.3 504 385.1 505 391.9 506 399.6 507 408.2 508 417.5 509 427.5 510 438 511 449 512 460.3 513 472 514 483.9 515 495.9 516 507.9 517 519.8 518 531.6 519 543.1 520 554.3 521 566.2 522 579.1 523 592.9 524 607.5 525 622.8 526 638.6 527 654.9 528 671.4 529 688.1 530 704.9 531 721.6 532 738.1 533 754.4 534 770.2 535 785.4 536 800 537 813.8 538 826.7 539 838.5 540 849.4 541 860.1 542 870.8 543 881.4 544 891.9 545 902.2 546 912.3 547 922.3 548 931.9 549 941.3 550 950.4 551 959.2 552 967.6 553 975.6 554 983.1 555 990.2 556 996.9 557 1003 558 1008.6 559 1013.6 560 1018 561 1022 562 1026 563 1029.9 564 1033.6 565 1037.1 566 1040.2 567 1042.9 568 1045.1 569 1046.6 570 1047.4 571 1047.4 572 1046.8 573 1045.6 574 1044 575 1042 576 1039.8 577 1037.5 578 1035 579 1032.6 580 1030 581 1027.1 582 1023.9 583 1020.4 584 1016.7 585 1012.8 586 1008.6 587 1004.1 588 999.5 589 994.6 590 989.5 591 984.3 592 978.8 593 973.2 594 967.4 595 961.5 596 955.4 597 949.1 598 942.8 599 936.3 600 929.7 601 923 602 916 603 908.3 604 900.2 605 891.5 606 882.3 607 872.8 608 862.8 609 852.4 610 841.8 611 830.8 612 819.6 613 808.1 614 796.5 615 784.6 616 772.7 617 760.7 618 748.7 619 736.6 620 724.5 621 712.5 622 700.6 623 688.8 624 677.1 625 664.7 626 651.5 627 637.8 628 623.6 629 609 630 594.1 631 579 632 563.8 633 548.7 634 533.6 635 518.8 636 504.3 637 490.3 638 476.7 639 463.8 640 451.6 641 440.3 642 429.8 643 420.4 644 412.2 645 405.2 646 399.4 647 393.7 648 388.2 649 382.7 650 377.4 651 372.2 652 367.2 653 362.4 654 357.9 655 353.6 656 349.6 657 346 658 342.7 659 339.8 660 337.4 661 335.3 662 333.8 663 332.8 664 332.2 665 332.4 666 333.9 667 336.7 668 340.6 669 345.6 670 351.6 671 358.5 672 366.2 673 374.7 674 383.9 675 393.7 676 403.9 677 414.6 678 425.5 679 436.8 680 448.2 681 459.6 682 471.1 683 482.5 684 493.6 685 504.6 686 516.3 687 529.1 688 542.9 689 557.5 690 572.9 691 589 692 605.5 693 622.4 694 639.6 695 656.9 696 674.2 697 691.4 698 708.3 699 724.9 700 741 701 756.5 702 771.3 703 785.2 704 798.1 705 810.2 706 822.2 707 834.2 708 846.2 709 858 710 869.8 711 881.4 712 892.8 713 904 714 914.9 715 925.4 716 935.6 717 945.4 718 954.7 719 963.6 720 971.9 721 979.6 722 986.7 723 993.2 724 999 725 1004 726 1008.7 727 1013.3 728 1017.9 729 1022.3 730 1026.5 731 1030.5 732 1034.2 733 1037.5 734 1040.4 735 1042.8 736 1044.7 737 1045.9 738 1046.5 739 1046.4 740 1046.1 741 1045.6 742 1044.8 743 1043.8 744 1042.7 745 1041.4 746 1040 747 1038.5 748 1036.9 749 1035.2 750 1033.5 751 1031.4 752 1028.9 753 1025.9 754 1022.5 755 1018.7 756 1014.6 757 1010.1 758 1005.3 759 1000.1 760 994.6 761 988.9 762 982.9 763 976.7 764 970.2 765 963.6 766 956.8 767 949.8 768 942.6 769 935.4 770 928 771 920.1 772 911.2 773 901.5 774 891 775 879.7 776 867.9 777 855.4 778 842.5 779 829.1 780 815.4 781 801.4 782 787.2 783 772.9 784 758.5 785 744.2 786 730 787 715.9 788 702.1 789 688.6 790 675 791 660.7 792 645.7 793 630.1 794 614.2 795 597.9 796 581.5 797 565 798 548.6 799 532.3 800 516.3 801 500.8 802 485.8 803 471.4 804 457.8 805 445.1 806 433.5 807 422.9 808 413.6 809 405.6 810 399 811 392.5 812 386.2 813 379.9 814 373.8 815 367.8 816 362.1 817 356.5 818 351.2 819 346.1 820 341.4 821 337 822 332.9 823 329.3 824 326 825 323.3 826 320.9 827 319.1 828 317.9 829 317.1 830 317.1 831 318.3 832 320.9 833 324.8 834 330 835 336.2 836 343.5 837 351.7 838 360.7 839 370.4 840 380.7 841 391.5 842 402.7 843 414.3 844 426 845 437.8 846 449.6 847 461.3 848 472.8 849 484 850 495.1 851 507 852 519.8 853 533.4 854 547.6 855 562.5 856 577.8 857 593.5 858 609.5 859 625.7 860 642 861 658.3 862 674.4 863 690.4 864 706 865 721.3 866 736 867 750.1 868 763.6 869 776.2 870 788 871 798.9 872 809.6 873 820.3 874 830.8 875 841.1 876 851.3 877 861.4 878 871.2 879 880.9 880 890.5 881 899.8 882 908.9 883 917.8 884 926.4 885 934.8 886 943 887 950.9 888 958.5 889 965.9 890 972.9 891 979.7 892 986.2 893 992.3 894 998.1 895 1003.5 896 1009 897 1014.6 898 1020.2 899 1025.7 900 1030.9 901 1035.7 902 1039.9 903 1043.5 904 1046.2 905 1047.9 906 1048.5 907 1048.3 908 1047.9 909 1047.1 910 1046.1 911 1045 912 1043.6 913 1042.1 914 1040.5 915 1038.9 916 1037.1 917 1034.8 918 1032 919 1028.7 920 1024.9 921 1020.7 922 1016 923 1011 924 1005.6 925 999.8 926 993.8 927 987.5 928 981 929 974.2 930 967.2 931 960.1 932 952.9 933 945.5 934 938.1 935 930.6 936 923.1 937 915 938 906.2 939 896.9 940 887.1 941 876.8 942 866.1 943 854.9 944 843.4 945 831.6 946 819.4 947 807.1 948 794.5 949 781.8 950 769 951 756.1 952 743.1 953 730.2 954 717.3 955 704.4 956 691.7 957 678.5 958 664.2 959 649.2 960 633.5 961 617.3 962 600.7 963 584 964 567.1 965 550.4 966 533.9 967 517.8 968 502.2 969 487.3 970 473.2 971 460.2 972 448.3 973 437.6 974 428.4 975 420.8 976 414.7 977 408.8 978 403.1 979 397.5 980 392 981 386.7 982 381.6 983 376.7 984 372.1 985 367.7 986 363.6 987 359.7 988 356.3 989 353.1 990 350.3 991 348 992 346 993 344.5 994 343.5 995 342.9 996 342.9 997 343.8 998 345.6 999 348.3 1000 351.9 1001 356.3 1002 361.4 1003 367.2 1004 373.7 1005 380.7 1006 388.3 1007 396.4 1008 404.9 1009 413.8 1010 423.1 1011 432.7 1012 442.5 1013 452.5 1014 462.6 1015 472.8 1016 483.1 1017 493.4 1018 503.6 1019 513.7 1020 523.7 1021 534.2 1022 545.8 1023 558.3 1024 571.6 1025 585.6 1026 600.3 1027 615.5 1028 631.1 1029 647.1 1030 663.3 1031 679.6 1032 696 1033 712.3 1034 728.4 1035 744.3 1036 759.8 1037 774.9 1038 789.4 1039 803.3 1040 816.4 1041 828.7 1042 840.7 1043 852.8 1044 865 1045 877.3 1046 889.5 1047 901.5 1048 913.4 1049 925.1 1050 936.5 1051 947.6 1052 958.3 1053 968.5 1054 978.1 1055 987.3 1056 995.7 1057 1003.5 1058 1010.5 1059 1016.7 1060 1022 1061 1026.8 1062 1031.4 1063 1036 1064 1040.4 1065 1044.5 1066 1048.3 1067 1051.5 1068 1054.2 1069 1056.3 1070 1057.5 1071 1058 1072 1057.9 1073 1057.4 1074 1056.8 1075 1055.9 1076 1054.9 1077 1053.7 1078 1052.3 1079 1050.9 1080 1049.5 1081 1047.8 1082 1045.7 1083 1043 1084 1039.9 1085 1036.4 1086 1032.4 1087 1028.1 1088 1023.3 1089 1018.2 1090 1012.8 1091 1007.1 1092 1001.1 1093 994.9 1094 988.5 1095 981.8 1096 975 1097 968.1 1098 961 1099 953.9 1100 946.6 1101 939.3 1102 931.1 1103 922.2 1104 912.5 1105 902.2 1106 891.3 1107 879.8 1108 867.9 1109 855.6 1110 842.9 1111 830 1112 816.9 1113 803.7 1114 790.4 1115 777.1 1116 763.9 1117 750.8 1118 738 1119 725.4 1120 713.1 1121 700.8 1122 688.1 1123 674.9 1124 661.3 1125 647.4 1126 633.3 1127 619 1128 604.7 1129 590.3 1130 576 1131 561.8 1132 547.9 1133 534.2 1134 520.9 1135 508.1 1136 495.7 1137 483.9 1138 472.8 1139 462.4 1140 452.8 1141 444 1142 436.2 1143 429.4 1144 423.4 1145 417.4 1146 411.4 1147 405.5 1148 399.7 1149 394 1150 388.5 1151 383.1 1152 377.9 1153 372.9 1154 368.1 1155 363.6 1156 359.3 1157 355.4 1158 351.8 1159 348.5 1160 345.6 1161 343.1 1162 341 1163 339.3 1164 338.1 1165 337.4 1166 337.2 1167 338.2 1168 340.7 1169 344.7 1170 350.1 1171 356.6 1172 364.2 1173 372.9 1174 382.4 1175 392.6 1176 403.5 1177 415 1178 426.8 1179 439 1180 451.3 1181 463.8 1182 476.1 1183 488.4 1184 500.3 1185 512 1186 524.6 1187 538.3 1188 553 1189 568.4 1190 584.6 1191 601.4 1192 618.6 1193 636.2 1194 653.9 1195 671.8 1196 689.6 1197 707.2 1198 724.5 1199 741.4 1200 757.8 1201 773.4 1202 788.3 1203 802.3 1204 815.2 1205 827.3 1206 839.4 1207 851.5 1208 863.5 1209 875.5 1210 887.3 1211 898.9 1212 910.4 1213 921.6 1214 932.4 1215 943 1216 953.2 1217 963 1218 972.3 1219 981.2 1220 989.5 1221 997.3 1222 1004.4 1223 1011 1224 1016.8 1225 1022 1226 1026.5 1227 1031 1228 1035.4 1229 1039.6 1230 1043.7 1231 1047.5 1232 1051 1233 1054.1 1234 1056.7 1235 1058.7 1236 1060.2 1237 1060.9 1238 1060.9 1239 1060.5 1240 1059.7 1241 1058.6 1242 1057.4 1243 1055.9 1244 1054.4 1245 1052.8 1246 1051.2 1247 1049.4 1248 1047.4 1249 1045.1 1250 1042.7 1251 1040.2 1252 1037.4 1253 1034.5 1254 1031.4 1255 1028.1 1256 1024.7 1257 1021.1 1258 1017.3 1259 1013.4 1260 1009.4 1261 1005.2 1262 1000.9 1263 996.4 1264 991.8 1265 987 1266 982.2 1267 977.2 1268 972.1 1269 966.8 1270 961.5 1271 956 1272 950 1273 943.3 1274 936.1 1275 928.2 1276 919.9 1277 911 1278 901.7 1279 892 1280 881.9 1281 871.5 1282 860.8 1283 849.8 1284 838.6 1285 827.2 1286 815.7 1287 804.1 1288 792.4 1289 780.7 1290 769 1291 757.4 1292 745.3 1293 732.1 1294 718.1 1295 703.3 1296 687.9 1297 672.1 1298 655.9 1299 639.6 1300 623.2 1301 606.9 1302 590.8 1303 575.2 1304 560 1305 545.5 1306 531.8 1307 519 1308 507.3 1309 496.7 1310 487.6 1311 479.8 1312 472.3 1313 464.7 1314 457.3 1315 449.9 1316 442.8 1317 435.8 1318 429 1319 422.6 1320 416.4 1321 410.7 1322 405.3 1323 400.5 1324 396.1 1325 392.3 1326 389.1 1327 386.5 1328 384.6 1329 383.4 1330 383 1331 383.5 1332 385 1333 387.5 1334 390.9 1335 395.1 1336 400 1337 405.7 1338 412.1 1339 419 1340 426.5 1341 434.5 1342 443 1343 451.8 1344 460.9 1345 470.3 1346 479.9 1347 489.6 1348 499.4 1349 509.3 1350 519.1 1351 528.9 1352 538.9 1353 550.3 1354 562.9 1355 576.7 1356 591.5 1357 607.1 1358 623.3 1359 640.2 1360 657.4 1361 674.8 1362 692.3 1363 709.8 1364 727.1 1365 744 1366 760.5 1367 776.3 1368 791.3 1369 805.4 1370 818.3 1371 830.4 1372 842.6 1373 854.9 1374 867.2 1375 879.4 1376 891.5 1377 903.5 1378 915.3 1379 926.7 1380 937.9 1381 948.6 1382 958.9 1383 968.7 1384 977.9 1385 986.4 1386 994.3 1387 1001.4 1388 1007.8 1389 1013.2 1390 1017.7 1391 1021.6 1392 1025.3 1393 1029 1394 1032.5 1395 1035.9 1396 1039.1 1397 1042.2 1398 1044.9 1399 1047.4 1400 1049.6 1401 1051.5 1402 1053 1403 1054.1 1404 1054.8 1405 1055 1406 1054.9 1407 1054.5 1408 1054 1409 1053.2 1410 1052.4 1411 1051.4 1412 1050.3 1413 1049.1 1414 1047.8 1415 1046.5 1416 1044.7 1417 1042.6 1418 1040.1 1419 1037.3 1420 1034.1 1421 1030.6 1422 1026.8 1423 1022.8 1424 1018.5 1425 1013.9 1426 1009.1 1427 1004.1 1428 998.9 1429 993.6 1430 988 1431 982.3 1432 976.5 1433 970.6 1434 964.5 1435 958.4 1436 951.9 1437 944.6 1438 936.7 1439 928.1 1440 919 1441 909.3 1442 899.1 1443 888.5 1444 877.5 1445 866.1 1446 854.4 1447 842.5 1448 830.3 1449 817.9 1450 805.5 1451 792.9 1452 780.3 1453 767.7 1454 755.1 1455 742.5 1456 729.1 1457 714.7 1458 699.5 1459 683.6 1460 667.2 1461 650.4 1462 633.4 1463 616.2 1464 599 1465 582 1466 565.3 1467 549.1 1468 533.4 1469 518.4 1470 504.3 1471 491.2 1472 479.2 1473 468.5 1474 459.3 1475 451 1476 442.8 1477 434.6 1478 426.5 1479 418.4 1480 410.6 1481 402.9 1482 395.4 1483 388.2 1484 381.4 1485 374.8 1486 368.7 1487 363 1488 357.8 1489 353.1 1490 348.9 1491 345.3 1492 342.4 1493 340.1 1494 338.6 1495 337.8 1496 337.8 1497 339 1498 341.1 1499 344.3 1500 348.4 1501 353.3 1502 358.9 1503 365.3 1504 372.2 1505 379.7 1506 387.7 1507 396 1508 404.7 1509 413.6 1510 422.6 1511 431.8 1512 441 1513 450.2 1514 459.2 1515 468 1516 476.7 1517 485.8 1518 495.5 1519 505.7 1520 516.4 1521 527.5 1522 538.9 1523 550.8 1524 562.9 1525 575.3 1526 588 1527 600.8 1528 613.7 1529 626.8 1530 639.9 1531 653 1532 666.2 1533 679.2 1534 692.2 1535 705 1536 717.6 1537 730 1538 742.1 1539 753.9 1540 765.6 1541 777.6 1542 789.9 1543 802.4 1544 815.1 1545 827.9 1546 840.7 1547 853.5 1548 866.3 1549 878.8 1550 891.2 1551 903.3 1552 915 1553 926.3 1554 937.1 1555 947.4 1556 957.1 1557 966.1 1558 974.3 1559 981.8 1560 988.4 1561 994.6 1562 1000.8 1563 1007 1564 1013.1 1565 1019 1566 1024.7 1567 1029.9 1568 1034.8 1569 1039.1 1570 1042.8 1571 1045.8 1572 1048.1 1573 1049.5 1574 1050 1575 1049.7 1576 1049 1577 1047.9 1578 1046.5 1579 1044.9 1580 1043.3 1581 1041.6 1582 1039.6 1583 1037.2 1584 1034.5 1585 1031.6 1586 1028.4 1587 1024.9 1588 1021.1 1589 1017.1 1590 1012.9 1591 1008.4 1592 1003.8 1593 998.9 1594 993.8 1595 988.6 1596 983.2 1597 977.7 1598 972 1599 966.1 1600 960.2 1601 954 1602 947.1 1603 939.6 1604 931.4 1605 922.7 1606 913.4 1607 903.6 1608 893.4 1609 882.7 1610 871.7 1611 860.4 1612 848.8 1613 836.9 1614 824.8 1615 812.6 1616 800.3 1617 787.8 1618 775.4 1619 763 1620 750.6 1621 737.5 1622 723.5 1623 708.6 1624 692.9 1625 676.6 1626 659.8 1627 642.7 1628 625.4 1629 608 1630 590.7 1631 573.5 1632 556.7 1633 540.3 1634 524.5 1635 509.4 1636 495.2 1637 481.9 1638 469.8 1639 459 1640 449.5 1641 441.1 1642 432.6 1643 424.2 1644 415.9 1645 407.6 1646 399.5 1647 391.4 1648 383.6 1649 375.9 1650 368.5 1651 361.3 1652 354.4 1653 347.8 1654 341.5 1655 335.7 1656 330.2 1657 325.1 1658 320.5 1659 316.3 1660 312.7 1661 309.6 1662 307 1663 305.1 1664 303.8 1665 303.1 1666 303.1 1667 304 1668 305.8 1669 308.4 1670 311.8 1671 315.8 1672 320.6 1673 325.9 1674 331.8 1675 338.2 1676 345 1677 352.3 1678 359.8 1679 367.7 1680 375.8 1681 384.2 1682 392.6 1683 401.1 1684 409.7 1685 418.2 1686 426.9 1687 436.6 1688 447.5 1689 459.5 1690 472.4 1691 486.2 1692 500.6 1693 515.8 1694 531.4 1695 547.4 1696 563.8 1697 580.3 1698 597 1699 613.6 1700 630.1 1701 646.4 1702 662.3 1703 677.8 1704 692.8 1705 707.1 1706 720.9 1707 735 1708 749.4 1709 764.2 1710 779.1 1711 794.1 1712 809.1 1713 824 1714 838.8 1715 853.3 1716 867.5 1717 881.2 1718 894.5 1719 907.2 1720 919.1 1721 930.3 1722 940.7 1723 950.1 1724 958.5 1725 965.7 1726 972 1727 978.2 1728 984.3 1729 990.3 1730 996.2 1731 1001.9 1732 1007.5 1733 1012.8 1734 1017.9 1735 1022.7 1736 1027.3 1737 1031.5 1738 1035.3 1739 1038.7 1740 1041.7 1741 1044.3 1742 1046.3 1743 1047.9 1744 1048.9 1745 1049.3 1746 1049.1 1747 1048.4 1748 1047.1 1749 1045.3 1750 1043 1751 1040.3 1752 1037.2 1753 1033.7 1754 1029.9 1755 1025.8 1756 1021.5 1757 1016.9 1758 1012.1 1759 1007.1 1760 1002.1 1761 996.9 1762 991.7 1763 986.5 1764 981.2 1765 976.1 1766 970.9 1767 965.6 1768 959.9 1769 953.9 1770 947.6 1771 941 1772 934.2 1773 927 1774 919.6 1775 912 1776 904.1 1777 895.9 1778 887.5 1779 878.9 1780 870.1 1781 861.1 1782 851.9 1783 842.5 1784 832.9 1785 823.2 1786 813.2 1787 803.2 1788 793 1789 782.6 1790 771.5 1791 759.3 1792 746.1 1793 732 1794 717.1 1795 701.6 1796 685.7 1797 669.5 1798 653 1799 636.5 1800 620.2 1801 604 1802 588.3 1803 573.1 1804 558.5 1805 544.7 1806 531.9 1807 520.2 1808 509.7 1809 500.4 1810 491.5 1811 482.5 1812 473.4 1813 464.4 1814 455.5 1815 446.7 1816 438.1 1817 429.7 1818 421.6 1819 413.8 1820 406.3 1821 399.3 1822 392.8 1823 386.7 1824 381.3 1825 376.4 1826 372.2 1827 368.7 1828 365.9 1829 364 1830 362.9 1831 362.7 1832 363.6 1833 365.4 1834 368.1 1835 371.6 1836 376 1837 381 1838 386.7 1839 393.1 1840 399.9 1841 407.2 1842 414.9 1843 423 1844 431.3 1845 439.8 1846 448.5 1847 457.3 1848 466.1 1849 474.8 1850 483.5 1851 492.6 1852 502.8 1853 513.9 1854 525.8 1855 538.5 1856 551.9 1857 565.9 1858 580.3 1859 595.1 1860 610.3 1861 625.7 1862 641.2 1863 656.7 1864 672.2 1865 687.6 1866 702.7 1867 717.5 1868 731.9 1869 745.8 1870 759.1 1871 772.1 1872 785.5 1873 799.3 1874 813.4 1875 827.7 1876 842.1 1877 856.5 1878 870.8 1879 884.9 1880 898.7 1881 912.1 1882 925 1883 937.3 1884 948.9 1885 959.7 1886 969.6 1887 978.5 1888 986.2 1889 992.8 1890 998 1891 1002.5 1892 1006.9 1893 1011.3 1894 1015.5 1895 1019.5 1896 1023.5 1897 1027.2 1898 1030.8 1899 1034.2 1900 1037.4 1901 1040.4 1902 1043.1 1903 1045.6 1904 1047.8 1905 1049.7 1906 1051.3 1907 1052.5 1908 1053.5 1909 1054.1 1910 1054.3 1911 1054.1 1912 1053.6 1913 1052.6 1914 1051.4 1915 1049.7 1916 1047.8 1917 1045.5 1918 1042.9 1919 1040.1 1920 1036.9 1921 1033.6 1922 1030 1923 1026.2 1924 1022.2 1925 1018 1926 1013.7 1927 1009.2 1928 1004.5 1929 999.8 1930 994.9 1931 990 1932 985 1933 980 1934 974.9 1935 969.8 1936 964.6 1937 958.8 1938 952.4 1939 945.4 1940 937.9 1941 930 1942 921.6 1943 912.7 1944 903.5 1945 893.9 1946 883.9 1947 873.7 1948 863.2 1949 852.4 1950 841.4 1951 830.2 1952 818.9 1953 807.4 1954 795.8 1955 784.2 1956 772.5 1957 760.2 1958 746.9 1959 732.6 1960 717.5 1961 701.7 1962 685.4 1963 668.6 1964 651.5 1965 634.2 1966 616.8 1967 599.5 1968 582.5 1969 565.7 1970 549.4 1971 533.6 1972 518.6 1973 504.4 1974 491.1 1975 479 1976 468 1977 457.6 1978 446.9 1979 436.2 1980 425.4 1981 414.6 1982 404 1983 393.5 1984 383.4 1985 373.6 1986 364.2 1987 355.4 1988 347.2 1989 339.6 1990 332.9 1991 326.9 1992 321.9 1993 317.9 1994 315 1995 313.2 1996 312.7 1997 313.2 1998 314.5 1999 316.6 2000 319.3 2001 322.7 2002 326.8 2003 331.4 2004 336.6 2005 342.2 2006 348.3 2007 354.7 2008 361.6 2009 368.7 2010 376.1 2011 383.7 2012 391.4 2013 399.3 2014 407.3 2015 415.3 2016 423.3 2017 432 2018 442.1 2019 453.4 2020 465.8 2021 479.3 2022 493.6 2023 508.6 2024 524.3 2025 540.4 2026 556.9 2027 573.7 2028 590.6 2029 607.4 2030 624.1 2031 640.6 2032 656.6 2033 672.2 2034 687.1 2035 701.2 2036 714.4 2037 726.9 2038 739.5 2039 752.2 2040 765 2041 777.7 2042 790.4 2043 803.1 2044 815.7 2045 828.2 2046 840.5 2047 852.6 2048 864.4 2049 876 2050 887.2 2051 898.1 2052 908.6 2053 918.7 2054 928.3 2055 937.4 2056 945.9 2057 953.9 2058 961.3 2059 968 2060 974 2061 979.7 2062 985.4 2063 991 2064 996.6 2065 1002.1 2066 1007.5 2067 1012.8 2068 1017.9 2069 1022.7 2070 1027.4 2071 1031.7 2072 1035.8 2073 1039.5 2074 1042.8 2075 1045.8 2076 1048.3 2077 1050.4 2078 1052 2079 1053 2080 1053.6 2081 1053.5 2082 1052.9 2083 1051.8 2084 1050.2 2085 1048.1 2086 1045.7 2087 1042.8 2088 1039.5 2089 1036 2090 1032.1 2091 1027.9 2092 1023.5 2093 1018.9 2094 1014.1 2095 1009.1 2096 1004 2097 998.8 2098 993.5 2099 988.2 2100 982.9 2101 977.6 2102 971.9 2103 965.7 2104 958.9 2105 951.7 2106 943.9 2107 935.7 2108 927.1 2109 918.1 2110 908.7 2111 899 2112 889 2113 878.7 2114 868.2 2115 857.4 2116 846.4 2117 835.3 2118 824 2119 812.6 2120 801.1 2121 789.5 2122 777.1 2123 763.6 2124 749.4 2125 734.4 2126 718.7 2127 702.5 2128 686 2129 669.1 2130 652 2131 634.9 2132 617.8 2133 600.9 2134 584.3 2135 568 2136 552.3 2137 537.2 2138 522.8 2139 509.2 2140 496.6 2141 485 2142 473.4 2143 461.4 2144 449.3 2145 437.1 2146 424.8 2147 412.7 2148 400.7 2149 389 2150 377.7 2151 366.9 2152 356.7 2153 347.2 2154 338.5 2155 330.6 2156 323.7 2157 318 2158 313.4 2159 310 2160 308.1 2161 307.6 2162 307.9 2163 308.6 2164 309.6 2165 311 2166 312.8 2167 314.9 2168 317.3 2169 320.1 2170 323.1 2171 326.4 2172 329.9 2173 333.7 2174 337.8 2175 342 2176 346.5 2177 351.2 2178 356 2179 361 2180 366.1 2181 371.4 2182 376.8 2183 382.3 2184 387.9 2185 393.6 2186 400.3 2187 408.3 2188 417.6 2189 428.1 2190 439.6 2191 452 2192 465.3 2193 479.3 2194 493.9 2195 508.9 2196 524.4 2197 540.2 2198 556.1 2199 572.1 2200 588 2201 603.9 2202 619.4 2203 634.6 2204 649.3 2205 663.4 2206 677.2 2207 691.5 2208 706.4 2209 721.6 2210 737.2 2211 753 2212 768.9 2213 784.8 2214 800.6 2215 816.2 2216 831.5 2217 846.3 2218 860.7 2219 874.4 2220 887.5 2221 899.7 2222 911 2223 921.2 2224 930.3 2225 938.2 2226 945.4 2227 952.6 2228 959.8 2229 966.9 2230 973.8 2231 980.6 2232 987.2 2233 993.6 2234 999.7 2235 1005.5 2236 1010.9 2237 1016 2238 1020.7 2239 1024.9 2240 1028.7 2241 1031.9 2242 1034.6 2243 1036.7 2244 1038.2 2245 1039 2246 1039.2 2247 1038.8 2248 1038 2249 1036.7 2250 1035.1 2251 1033.1 2252 1030.7 2253 1028 2254 1025 2255 1021.7 2256 1018.1 2257 1014.3 2258 1010.3 2259 1006.2 2260 1001.8 2261 997.4 2262 992.8 2263 988.1 2264 983.4 2265 978.6 2266 973.8 2267 968.7 2268 962.8 2269 956.3 2270 949.1 2271 941.4 2272 933.1 2273 924.3 2274 915.1 2275 905.5 2276 895.6 2277 885.4 2278 875 2279 864.4 2280 853.7 2281 843 2282 832.2 2283 821.4 2284 810.8 2285 800.3 2286 789.9 2287 779.5 2288 769 2289 758.4 2290 747.6 2291 736.7 2292 725.7 2293 714.6 2294 703.3 2295 691.9 2296 680.4 2297 668.8 2298 657.1 2299 645.2 2300 633.2 2301 621.1 2302 608.9 2303 596.5 2304 584.1 2305 571.5 2306 558.8 2307 546 2308 533.1 2309 520.1 2310 507 2310.3 503" fill="none" stroke="#0000ff" stroke-width="5.8" stroke-linejoin="round"/>
<g fill="none" stroke="#0000ff" stroke-width="6.8">
<circle cx="229" cy="1018" r="9.9"/>
<circle cx="250.5" cy="1034" r="9.9"/>
<circle cx="269.5" cy="928" r="9.9"/>
<circle cx="289.7" cy="698.5" r="9.9"/>
<circle cx="309.7" cy="437.8" r="9.9"/>
<circle cx="330" cy="377" r="9.9"/>
<circle cx="350.6" cy="557.8" r="9.9"/>
<circle cx="374.2" cy="838.6" r="9.9"/>
<circle cx="395.2" cy="1013.5" r="9.9"/>
<circle cx="415.3" cy="1029" r="9.9"/>
<circle cx="434.8" cy="918.5" r="9.9"/>
<circle cx="455.5" cy="683.2" r="9.9"/>
<circle cx="475.1" cy="423.2" r="9.9"/>
<circle cx="498.9" cy="368" r="9.9"/>
<circle cx="519.8" cy="552.1" r="9.9"/>
<circle cx="539.4" cy="842.9" r="9.9"/>
<circle cx="560.2" cy="1018.8" r="9.9"/>
<circle cx="578.6" cy="1033.6" r="9.9"/>
<circle cx="601" cy="923" r="9.9"/>
<circle cx="623.5" cy="683" r="9.9"/>
<circle cx="645.5" cy="402.2" r="9.9"/>
<circle cx="664.4" cy="332.2" r="9.9"/>
<circle cx="684.8" cy="502.4" r="9.9"/>
<circle cx="704.4" cy="803" r="9.9"/>
<circle cx="725" cy="1004" r="9.9"/>
<circle cx="749.7" cy="1034" r="9.9"/>
<circle cx="770" cy="928" r="9.9"/>
<circle cx="789.1" cy="687.3" r="9.9"/>
<circle cx="809.5" cy="402.2" r="9.9"/>
<circle cx="829.7" cy="317" r="9.9"/>
<circle cx="849.4" cy="488.4" r="9.9"/>
<circle cx="870.4" cy="792.4" r="9.9"/>
<circle cx="894.9" cy="1003" r="9.9"/>
<circle cx="915.5" cy="1038" r="9.9"/>
<circle cx="935.5" cy="926.9" r="9.9"/>
<circle cx="955.9" cy="693" r="9.9"/>
<circle cx="975.5" cy="417.6" r="9.9"/>
<circle cx="995.6" cy="342.8" r="9.9"/>
<circle cx="1019.9" cy="522.7" r="9.9"/>
<circle cx="1040.9" cy="827.5" r="9.9"/>
<circle cx="1060.2" cy="1023" r="9.9"/>
<circle cx="1080.3" cy="1049" r="9.9"/>
<circle cx="1100.5" cy="943" r="9.9"/>
<circle cx="1120.1" cy="711.9" r="9.9"/>
<circle cx="1143.2" cy="428.2" r="9.9"/>
<circle cx="1165.9" cy="337.2" r="9.9"/>
<circle cx="1184.6" cy="507.3" r="9.9"/>
<circle cx="1204.2" cy="817.6" r="9.9"/>
<circle cx="1225.4" cy="1023.8" r="9.9"/>
<circle cx="1244.9" cy="1053" r="9.9"/>
<circle cx="1270.7" cy="957.7" r="9.9"/>
<circle cx="1291" cy="757.4" r="9.9"/>
<circle cx="1310.6" cy="482.8" r="9.9"/>
<circle cx="1330" cy="383" r="9.9"/>
<circle cx="1351.3" cy="531.8" r="9.9"/>
<circle cx="1370.3" cy="822" r="9.9"/>
<circle cx="1390.2" cy="1018.5" r="9.9"/>
<circle cx="1414.2" cy="1047.6" r="9.9"/>
<circle cx="1435" cy="958.4" r="9.9"/>
<circle cx="1454.6" cy="747.6" r="9.9"/>
<circle cx="1474.2" cy="457.6" r="9.9"/>
<circle cx="1495.5" cy="337.7" r="9.9"/>
<circle cx="1515.5" cy="472.3" r="9.9"/>
<circle cx="1539.3" cy="757.4" r="9.9"/>
<circle cx="1560" cy="988.4" r="9.9"/>
<circle cx="1580.2" cy="1043" r="9.9"/>
<circle cx="1600.3" cy="958.4" r="9.9"/>
<circle cx="1619.9" cy="751.8" r="9.9"/>
<circle cx="1640.2" cy="447.8" r="9.9"/>
<circle cx="1665.5" cy="303" r="9.9"/>
<circle cx="1685.5" cy="422.5" r="9.9"/>
<circle cx="1705.4" cy="712.6" r="9.9"/>
<circle cx="1725.4" cy="968.3" r="9.9"/>
<circle cx="1745.2" cy="1049.3" r="9.9"/>
<circle cx="1765.6" cy="973" r="9.9"/>
<circle cx="1789" cy="782.6" r="9.9"/>
<circle cx="1808.7" cy="503.1" r="9.9"/>
<circle cx="1830.7" cy="362.7" r="9.9"/>
<circle cx="1850" cy="483.5" r="9.9"/>
<circle cx="1870.3" cy="763" r="9.9"/>
<circle cx="1890" cy="998" r="9.9"/>
<circle cx="1910.1" cy="1054.3" r="9.9"/>
<circle cx="1935.3" cy="968.3" r="9.9"/>
<circle cx="1956" cy="772.5" r="9.9"/>
<circle cx="1976" cy="468" r="9.9"/>
<circle cx="1995.9" cy="312.7" r="9.9"/>
<circle cx="2016" cy="423.3" r="9.9"/>
<circle cx="2036.3" cy="718.2" r="9.9"/>
<circle cx="2060" cy="974" r="9.9"/>
<circle cx="2080.4" cy="1053.6" r="9.9"/>
<circle cx="2100.8" cy="978.7" r="9.9"/>
<circle cx="2120.7" cy="793" r="9.9"/>
<circle cx="2140.7" cy="488.4" r="9.9"/>
<circle cx="2160.8" cy="307.6" r="9.9"/>
<circle cx="2184.8" cy="392.4" r="9.9"/>
<circle cx="2205.3" cy="667.5" r="9.9"/>
<circle cx="2225" cy="938.2" r="9.9"/>
<circle cx="2245.7" cy="1039.2" r="9.9"/>
<circle cx="2266.1" cy="973.3" r="9.9"/>
<circle cx="2285.7" cy="793" r="9.9"/>
<circle cx="2310.3" cy="503" r="9.9"/>
</g>
<text transform="translate(100.11 255.90) scale(0.9455 1)" font-size="61.5" fill="#262626">800</text>
<text transform="translate(99.13 495.00) scale(0.9563 1)" font-size="61.5" fill="#262626">600</text>
<text transform="translate(100.56 733.00) scale(0.9404 1)" font-size="61.5" fill="#262626">400</text>
<text transform="translate(98.00 970.50) scale(0.9678 1)" font-size="61.5" fill="#262626">200</text>
<text transform="translate(164.54 1209.50) scale(0.9808 1)" font-size="61.5" fill="#262626">0</text>
<text transform="translate(177.68 1286.70) scale(0.9647 1)" font-size="61.5" fill="#262626">150</text>
<text transform="translate(385.78 1286.70) scale(0.9647 1)" font-size="61.5" fill="#262626">160</text>
<text transform="translate(593.88 1286.70) scale(0.9647 1)" font-size="61.5" fill="#262626">170</text>
<text transform="translate(801.98 1286.70) scale(0.9647 1)" font-size="61.5" fill="#262626">180</text>
<text transform="translate(1010.08 1286.70) scale(0.9647 1)" font-size="61.5" fill="#262626">190</text>
<text transform="translate(1217.10 1286.70) scale(0.9678 1)" font-size="61.5" fill="#262626">200</text>
<text transform="translate(1425.20 1286.70) scale(0.9678 1)" font-size="61.5" fill="#262626">210</text>
<text transform="translate(1633.30 1286.70) scale(0.9678 1)" font-size="61.5" fill="#262626">220</text>
<text transform="translate(1841.40 1286.70) scale(0.9678 1)" font-size="61.5" fill="#262626">230</text>
<text transform="translate(2049.50 1286.70) scale(0.9678 1)" font-size="61.5" fill="#262626">240</text>
<text transform="translate(2257.60 1286.70) scale(0.9678 1)" font-size="61.5" fill="#262626">250</text>
<text transform="translate(1140.03 1373.10) scale(0.9697 1)" font-size="62.5" fill="#262626">Time (s)</text>
<text transform="translate(67.2 1072.89) rotate(-90) scale(1.0220 1)" font-size="62.5" fill="#262626">Starboard Tension (kN)</text>
<rect x="812.9" y="20" width="854.9" height="165.8" fill="#fff" stroke="#262626" stroke-width="5.6"/>
<path d="M868.1 69H1167.9" stroke="#000" stroke-width="5.9"/>
<path d="M868.1 137H1167.9" stroke="#0000ff" stroke-width="5.8"/>
<circle cx="1020.2" cy="137.8" r="12.6" fill="none" stroke="#0000ff" stroke-width="6.8"/>
<text transform="translate(1193.03 93.10) scale(1.0325 1)" font-size="62.5" fill="#000">Experiment</text>
<text transform="translate(1193.06 160.40) scale(1.0211 1)" font-size="62.5" fill="#000">Num.: Config 2</text>
</svg></body></html>
